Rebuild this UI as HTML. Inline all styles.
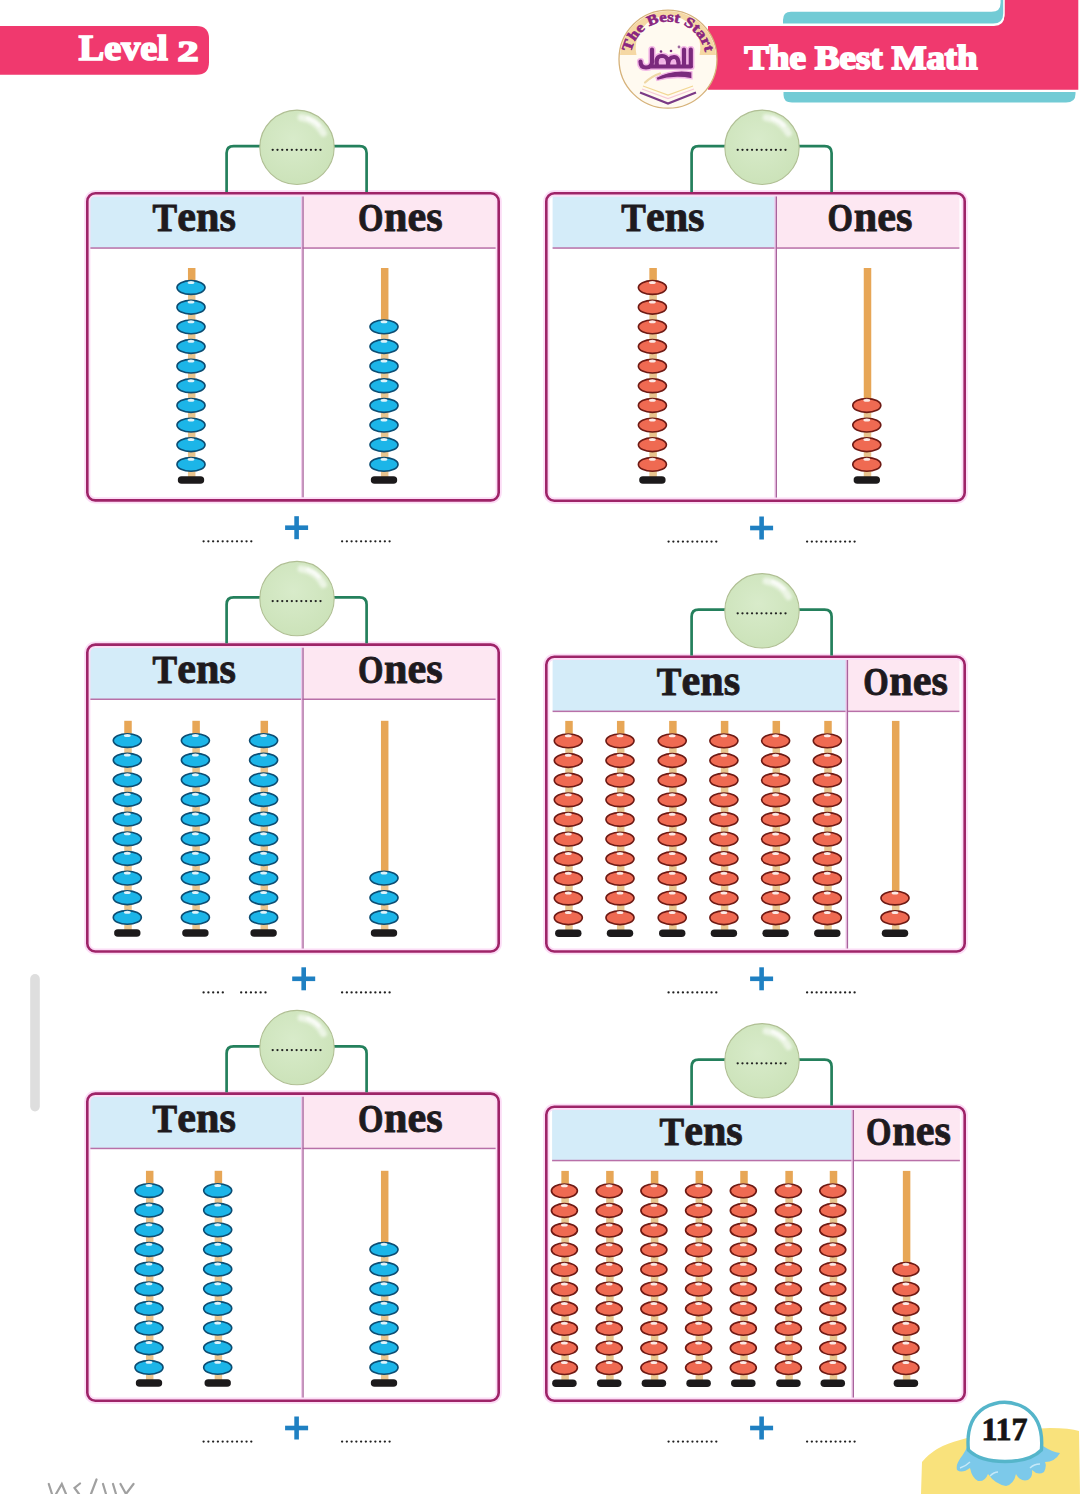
<!DOCTYPE html>
<html><head><meta charset="utf-8"><title>The Best Math - Level 2</title>
<style>
html,body{margin:0;padding:0;background:#ffffff;}
body{width:1080px;height:1494px;overflow:hidden;position:relative;}
svg{position:absolute;left:0;top:0;display:block;}
.hc{font-family:"Liberation Serif",serif;font-weight:bold;font-size:41px;fill:#1e1a1e;stroke:#1e1a1e;stroke-width:0.9px;}
.hl{font-family:"Liberation Serif",serif;font-weight:bold;font-size:44px;fill:#1e1a1e;stroke:#1e1a1e;stroke-width:0.9px;}
.lv{font-family:"Liberation Serif",serif;font-weight:bold;font-size:35px;fill:#ffffff;stroke:#ffffff;stroke-width:1.7px;}
.tbm{font-family:"Liberation Serif",serif;font-weight:bold;font-size:33px;fill:#ffffff;stroke:#ffffff;stroke-width:1.9px;}
.lg{font-family:"Liberation Serif",serif;font-weight:bold;font-size:14.5px;fill:#8a2580;stroke:#8a2580;stroke-width:0.6px;}
.pg{font-family:"Liberation Serif",serif;font-weight:bold;font-size:32px;fill:#161414;stroke:#161414;stroke-width:0.8px;text-anchor:middle;}
</style></head>
<body>
<svg width="1080" height="1494" viewBox="0 0 1080 1494">
<defs>
<radialGradient id="gball" cx="0.45" cy="0.4" r="0.65">
<stop offset="0" stop-color="#d8ebca"/>
<stop offset="1" stop-color="#cbe2b8"/>
</radialGradient>
<filter id="blur2" x="-50%" y="-50%" width="200%" height="200%"><feGaussianBlur stdDeviation="1.6"/></filter>
<filter id="blur1" x="-50%" y="-50%" width="200%" height="200%"><feGaussianBlur stdDeviation="0.8"/></filter>
</defs>
<path d="M0,26 L196.5,26 Q209,26 209,38.5 L209,62.2 Q209,74.7 196.5,74.7 L0,74.7 Z" fill="#f0396e"/>
<text x="78.8" y="59.6" class="lv" style="font-size:36px" textLength="89" lengthAdjust="spacingAndGlyphs">Level</text>
<text x="177.4" y="60.6" class="lv" style="font-size:30px" textLength="21" lengthAdjust="spacingAndGlyphs">2</text>
<path d="M708,26 L994,26 Q1004.4,26 1004.4,15.6 L1004.4,0 L1078.3,0 L1078.3,89.7 L708,89.7 Z" fill="#f0396e"/>
<path d="M781.5,25 L781.5,19 Q781.5,10 790,10 L991,10 Q999,10 999,2 L999,0 L1004.6,0 L1004.6,13.5 Q1004.6,25 993.3,25 Z" fill="#ffffff"/>
<path d="M783,23.6 L783,20 Q783,11.8 791,11.8 L991.5,11.8 Q1000.6,11.8 1000.6,2.7 L1000.6,0 L1003.2,0 L1003.2,13.5 Q1003.2,23.6 993.2,23.6 Z" fill="#72cbd5"/>
<path d="M783.5,92 L1075.5,92 L1075.5,94 Q1075.5,102.6 1066,102.6 L792,102.6 Q783.5,102.6 783.5,95 Z" fill="#72cbd5"/>
<text x="744.5" y="69.4" class="tbm" textLength="233" lengthAdjust="spacingAndGlyphs">The Best Math</text>
<circle cx="668" cy="59.2" r="49" fill="#fffaf0" stroke="#d6b27a" stroke-width="1.3"/>
<clipPath id="lclip"><circle cx="668" cy="59.2" r="48.2"/></clipPath>
<g clip-path="url(#lclip)"><path d="M619,55 L619,10.200000000000003 L717,10.200000000000003 L717,55 L699.5,55 A32.3,32.3 0 1 0 636.5,55 Z" fill="#f5d8a4" fill-rule="evenodd"/></g>
<path id="arcp" d="M631.86,69.56 A37.6,37.6 0 1 1 704.14,69.56" fill="none"/>
<text class="lg"><textPath href="#arcp" startOffset="50%" text-anchor="middle" textLength="104" lengthAdjust="spacingAndGlyphs">The Best Start</textPath></text>
<path d="M652,49.5 L652,62 Q652,67.5 646,67.5 Q640.5,67.5 640.5,61.5 M652,66.5 L691,66.5 M657,66 Q655,56 662,56 Q669,56 668,66 M668,66 Q668,57 674,57 Q679,57 678.5,66 M684,49.5 L684,66 M690.8,49.5 L690.8,66" fill="none" stroke="#f3b6e6" stroke-width="7.2" stroke-linecap="round" stroke-linejoin="round"/>
<path d="M652,49.5 L652,62 Q652,67.5 646,67.5 Q640.5,67.5 640.5,61.5 M652,66.5 L691,66.5 M657,66 Q655,56 662,56 Q669,56 668,66 M668,66 Q668,57 674,57 Q679,57 678.5,66 M684,49.5 L684,66 M690.8,49.5 L690.8,66" fill="none" stroke="#7b2a7d" stroke-width="4.2" stroke-linecap="round" stroke-linejoin="round"/>
<ellipse cx="662" cy="61" rx="3" ry="2.2" fill="#f0b0e4"/>
<ellipse cx="673.5" cy="61.5" rx="2" ry="1.8" fill="#f0b0e4"/>
<circle cx="661" cy="51.5" r="1.3" fill="#7b2a7d"/><circle cx="671" cy="51" r="1.3" fill="#7b2a7d"/><circle cx="679" cy="47" r="1.4" fill="#a06aa0"/>
<path d="M645,82.5 Q652,76 660,73.5" fill="none" stroke="#eed7a6" stroke-width="2.2" stroke-linecap="round"/>
<path d="M656,77.5 Q672,68.5 692,71.8 L692,78.8 Q673,75.5 657,80.5 Z" fill="#7b2a7d" stroke="#f3b6e6" stroke-width="1.3"/>
<path d="M643,86 L668,95 L693,86" fill="none" stroke="#f2d794" stroke-width="1.3"/>
<path d="M642,89 L668,98.5 L694,89" fill="none" stroke="#f6c9d8" stroke-width="1.3"/>
<path d="M640,92.5 L668,103.5 L696,92.5" fill="none" stroke="#7b3a86" stroke-width="2.2"/>
<clipPath id="clip0"><rect x="88.6" y="194.6" width="408.8" height="304.5" rx="6"/></clipPath>
<rect x="87.3" y="193.3" width="411.4" height="307.1" rx="8" fill="#ffffff"/>
<g clip-path="url(#clip0)">
<rect x="88.6" y="196.4" width="214.4" height="51.6" fill="#d4ecf9"/>
<rect x="303" y="196.4" width="195.4" height="51.6" fill="#fde7f2"/>
<rect x="88.6" y="247.3" width="409.8" height="1.5" fill="#b870a8"/>
</g>
<rect x="301.1" y="194.6" width="1.4" height="304.5" fill="#f1c6ea"/>
<rect x="302.4" y="194.6" width="1.3" height="304.5" fill="#a8649c"/>
<rect x="87.3" y="193.3" width="411.4" height="307.1" rx="8" fill="none" stroke="#fcdcf6" stroke-width="6.2"/>
<rect x="87.3" y="193.3" width="411.4" height="307.1" rx="8" fill="none" stroke="#9e2468" stroke-width="2.6"/>
<text x="152.6" y="231.3" class="hc" textLength="24.6" lengthAdjust="spacingAndGlyphs">T</text>
<text x="177.3" y="231.3" class="hl" textLength="58.6" lengthAdjust="spacingAndGlyphs">ens</text>
<text x="357.95" y="231.3" class="hc" textLength="25.5" lengthAdjust="spacingAndGlyphs">O</text>
<text x="384.1" y="231.3" class="hl" textLength="58.6" lengthAdjust="spacingAndGlyphs">nes</text>
<rect x="187.95" y="268" width="7.5" height="14.15" fill="#e7a656"/>
<rect x="187.95" y="280.15" width="7.5" height="198.15" fill="#e8c48e"/>
<rect x="177.8" y="476.3" width="26.4" height="7.5" rx="3.75" fill="#1c1a1b"/>
<ellipse cx="191" cy="464.4" rx="14.0" ry="6.85" fill="#1cb5e8" stroke="#0c4d73" stroke-width="1.65"/>
<ellipse cx="191" cy="459.25" rx="3.4" ry="1.5" fill="#ffffff" opacity="0.85"/>
<ellipse cx="191" cy="444.75" rx="14.0" ry="6.85" fill="#1cb5e8" stroke="#0c4d73" stroke-width="1.65"/>
<ellipse cx="191" cy="439.6" rx="3.4" ry="1.5" fill="#ffffff" opacity="0.85"/>
<ellipse cx="191" cy="425.1" rx="14.0" ry="6.85" fill="#1cb5e8" stroke="#0c4d73" stroke-width="1.65"/>
<ellipse cx="191" cy="419.95" rx="3.4" ry="1.5" fill="#ffffff" opacity="0.85"/>
<ellipse cx="191" cy="405.45" rx="14.0" ry="6.85" fill="#1cb5e8" stroke="#0c4d73" stroke-width="1.65"/>
<ellipse cx="191" cy="400.3" rx="3.4" ry="1.5" fill="#ffffff" opacity="0.85"/>
<ellipse cx="191" cy="385.8" rx="14.0" ry="6.85" fill="#1cb5e8" stroke="#0c4d73" stroke-width="1.65"/>
<ellipse cx="191" cy="380.65" rx="3.4" ry="1.5" fill="#ffffff" opacity="0.85"/>
<ellipse cx="191" cy="366.15" rx="14.0" ry="6.85" fill="#1cb5e8" stroke="#0c4d73" stroke-width="1.65"/>
<ellipse cx="191" cy="361" rx="3.4" ry="1.5" fill="#ffffff" opacity="0.85"/>
<ellipse cx="191" cy="346.5" rx="14.0" ry="6.85" fill="#1cb5e8" stroke="#0c4d73" stroke-width="1.65"/>
<ellipse cx="191" cy="341.35" rx="3.4" ry="1.5" fill="#ffffff" opacity="0.85"/>
<ellipse cx="191" cy="326.85" rx="14.0" ry="6.85" fill="#1cb5e8" stroke="#0c4d73" stroke-width="1.65"/>
<ellipse cx="191" cy="321.7" rx="3.4" ry="1.5" fill="#ffffff" opacity="0.85"/>
<ellipse cx="191" cy="307.2" rx="14.0" ry="6.85" fill="#1cb5e8" stroke="#0c4d73" stroke-width="1.65"/>
<ellipse cx="191" cy="302.05" rx="3.4" ry="1.5" fill="#ffffff" opacity="0.85"/>
<ellipse cx="191" cy="287.55" rx="14.0" ry="6.85" fill="#1cb5e8" stroke="#0c4d73" stroke-width="1.65"/>
<ellipse cx="191" cy="282.4" rx="3.4" ry="1.5" fill="#ffffff" opacity="0.85"/>
<rect x="380.95" y="268" width="7.5" height="53.45" fill="#e7a656"/>
<rect x="380.95" y="319.45" width="7.5" height="158.85" fill="#e8c48e"/>
<rect x="370.8" y="476.3" width="26.4" height="7.5" rx="3.75" fill="#1c1a1b"/>
<ellipse cx="384" cy="464.4" rx="14.0" ry="6.85" fill="#1cb5e8" stroke="#0c4d73" stroke-width="1.65"/>
<ellipse cx="384" cy="459.25" rx="3.4" ry="1.5" fill="#ffffff" opacity="0.85"/>
<ellipse cx="384" cy="444.75" rx="14.0" ry="6.85" fill="#1cb5e8" stroke="#0c4d73" stroke-width="1.65"/>
<ellipse cx="384" cy="439.6" rx="3.4" ry="1.5" fill="#ffffff" opacity="0.85"/>
<ellipse cx="384" cy="425.1" rx="14.0" ry="6.85" fill="#1cb5e8" stroke="#0c4d73" stroke-width="1.65"/>
<ellipse cx="384" cy="419.95" rx="3.4" ry="1.5" fill="#ffffff" opacity="0.85"/>
<ellipse cx="384" cy="405.45" rx="14.0" ry="6.85" fill="#1cb5e8" stroke="#0c4d73" stroke-width="1.65"/>
<ellipse cx="384" cy="400.3" rx="3.4" ry="1.5" fill="#ffffff" opacity="0.85"/>
<ellipse cx="384" cy="385.8" rx="14.0" ry="6.85" fill="#1cb5e8" stroke="#0c4d73" stroke-width="1.65"/>
<ellipse cx="384" cy="380.65" rx="3.4" ry="1.5" fill="#ffffff" opacity="0.85"/>
<ellipse cx="384" cy="366.15" rx="14.0" ry="6.85" fill="#1cb5e8" stroke="#0c4d73" stroke-width="1.65"/>
<ellipse cx="384" cy="361" rx="3.4" ry="1.5" fill="#ffffff" opacity="0.85"/>
<ellipse cx="384" cy="346.5" rx="14.0" ry="6.85" fill="#1cb5e8" stroke="#0c4d73" stroke-width="1.65"/>
<ellipse cx="384" cy="341.35" rx="3.4" ry="1.5" fill="#ffffff" opacity="0.85"/>
<ellipse cx="384" cy="326.85" rx="14.0" ry="6.85" fill="#1cb5e8" stroke="#0c4d73" stroke-width="1.65"/>
<ellipse cx="384" cy="321.7" rx="3.4" ry="1.5" fill="#ffffff" opacity="0.85"/>
<path d="M226.6,192 L226.6,153.1 Q226.6,146.1 233.6,146.1 L359.6,146.1 Q366.6,146.1 366.6,153.1 L366.6,192" fill="none" stroke="#24805c" stroke-width="2.7"/>
<circle cx="297" cy="147.3" r="37.2" fill="url(#gball)" stroke="#b0bf94" stroke-width="1.1"/>
<path d="M301.18,117.59 A30,30 0 0 1 323.49,133.22" fill="none" stroke="#ffffff" stroke-width="7" stroke-linecap="round" opacity="0.6" filter="url(#blur2)"/>
<path d="M307.6,118.17 A31,31 0 0 1 318.92,125.38" fill="none" stroke="#ffffff" stroke-width="3.5" stroke-linecap="round" opacity="0.7" filter="url(#blur1)"/>
<circle cx="272.7" cy="149.8" r="1.15" fill="#202020"/><circle cx="277.48" cy="149.8" r="1.15" fill="#202020"/><circle cx="282.26" cy="149.8" r="1.15" fill="#202020"/><circle cx="287.04" cy="149.8" r="1.15" fill="#202020"/><circle cx="291.82" cy="149.8" r="1.15" fill="#202020"/><circle cx="296.6" cy="149.8" r="1.15" fill="#202020"/><circle cx="301.38" cy="149.8" r="1.15" fill="#202020"/><circle cx="306.16" cy="149.8" r="1.15" fill="#202020"/><circle cx="310.94" cy="149.8" r="1.15" fill="#202020"/><circle cx="315.72" cy="149.8" r="1.15" fill="#202020"/><circle cx="320.5" cy="149.8" r="1.15" fill="#202020"/>
<rect x="285.1" y="525.4" width="23" height="4.6" fill="#1f80c2"/><rect x="294.3" y="516.2" width="4.6" height="23" fill="#1f80c2"/>
<circle cx="203.6" cy="541.3" r="1.15" fill="#202020"/><circle cx="208.37" cy="541.3" r="1.15" fill="#202020"/><circle cx="213.14" cy="541.3" r="1.15" fill="#202020"/><circle cx="217.91" cy="541.3" r="1.15" fill="#202020"/><circle cx="222.68" cy="541.3" r="1.15" fill="#202020"/><circle cx="227.45" cy="541.3" r="1.15" fill="#202020"/><circle cx="232.22" cy="541.3" r="1.15" fill="#202020"/><circle cx="236.99" cy="541.3" r="1.15" fill="#202020"/><circle cx="241.76" cy="541.3" r="1.15" fill="#202020"/><circle cx="246.53" cy="541.3" r="1.15" fill="#202020"/><circle cx="251.3" cy="541.3" r="1.15" fill="#202020"/>
<circle cx="342.1" cy="541.3" r="1.15" fill="#202020"/><circle cx="346.85" cy="541.3" r="1.15" fill="#202020"/><circle cx="351.6" cy="541.3" r="1.15" fill="#202020"/><circle cx="356.35" cy="541.3" r="1.15" fill="#202020"/><circle cx="361.1" cy="541.3" r="1.15" fill="#202020"/><circle cx="365.85" cy="541.3" r="1.15" fill="#202020"/><circle cx="370.6" cy="541.3" r="1.15" fill="#202020"/><circle cx="375.35" cy="541.3" r="1.15" fill="#202020"/><circle cx="380.1" cy="541.3" r="1.15" fill="#202020"/><circle cx="384.85" cy="541.3" r="1.15" fill="#202020"/><circle cx="389.6" cy="541.3" r="1.15" fill="#202020"/><clipPath id="clip1"><rect x="547.6" y="194.6" width="415.8" height="304.8" rx="6"/></clipPath>
<rect x="546.3" y="193.3" width="418.4" height="307.4" rx="8" fill="#ffffff"/>
<g clip-path="url(#clip1)">
<rect x="552.6" y="196.4" width="223.7" height="51.6" fill="#d4ecf9"/>
<rect x="776.3" y="196.4" width="183.1" height="51.6" fill="#fde7f2"/>
<rect x="552.6" y="247.3" width="406.8" height="1.5" fill="#b870a8"/>
</g>
<rect x="774.4" y="194.6" width="1.4" height="304.8" fill="#f1c6ea"/>
<rect x="775.7" y="194.6" width="1.3" height="304.8" fill="#a8649c"/>
<rect x="546.3" y="193.3" width="418.4" height="307.4" rx="8" fill="none" stroke="#fcdcf6" stroke-width="6.2"/>
<rect x="546.3" y="193.3" width="418.4" height="307.4" rx="8" fill="none" stroke="#9e2468" stroke-width="2.6"/>
<text x="621.25" y="231.3" class="hc" textLength="24.6" lengthAdjust="spacingAndGlyphs">T</text>
<text x="645.95" y="231.3" class="hl" textLength="58.6" lengthAdjust="spacingAndGlyphs">ens</text>
<text x="827.6" y="231.3" class="hc" textLength="25.5" lengthAdjust="spacingAndGlyphs">O</text>
<text x="853.75" y="231.3" class="hl" textLength="58.6" lengthAdjust="spacingAndGlyphs">nes</text>
<rect x="649.35" y="268" width="7.5" height="14.15" fill="#e7a656"/>
<rect x="649.35" y="280.15" width="7.5" height="198.15" fill="#e8c48e"/>
<rect x="639.2" y="476.3" width="26.4" height="7.5" rx="3.75" fill="#1c1a1b"/>
<ellipse cx="652.4" cy="464.4" rx="14.0" ry="6.85" fill="#ef6a52" stroke="#6e1a14" stroke-width="1.65"/>
<ellipse cx="652.4" cy="459.25" rx="3.4" ry="1.5" fill="#ffffff" opacity="0.85"/>
<ellipse cx="652.4" cy="444.75" rx="14.0" ry="6.85" fill="#ef6a52" stroke="#6e1a14" stroke-width="1.65"/>
<ellipse cx="652.4" cy="439.6" rx="3.4" ry="1.5" fill="#ffffff" opacity="0.85"/>
<ellipse cx="652.4" cy="425.1" rx="14.0" ry="6.85" fill="#ef6a52" stroke="#6e1a14" stroke-width="1.65"/>
<ellipse cx="652.4" cy="419.95" rx="3.4" ry="1.5" fill="#ffffff" opacity="0.85"/>
<ellipse cx="652.4" cy="405.45" rx="14.0" ry="6.85" fill="#ef6a52" stroke="#6e1a14" stroke-width="1.65"/>
<ellipse cx="652.4" cy="400.3" rx="3.4" ry="1.5" fill="#ffffff" opacity="0.85"/>
<ellipse cx="652.4" cy="385.8" rx="14.0" ry="6.85" fill="#ef6a52" stroke="#6e1a14" stroke-width="1.65"/>
<ellipse cx="652.4" cy="380.65" rx="3.4" ry="1.5" fill="#ffffff" opacity="0.85"/>
<ellipse cx="652.4" cy="366.15" rx="14.0" ry="6.85" fill="#ef6a52" stroke="#6e1a14" stroke-width="1.65"/>
<ellipse cx="652.4" cy="361" rx="3.4" ry="1.5" fill="#ffffff" opacity="0.85"/>
<ellipse cx="652.4" cy="346.5" rx="14.0" ry="6.85" fill="#ef6a52" stroke="#6e1a14" stroke-width="1.65"/>
<ellipse cx="652.4" cy="341.35" rx="3.4" ry="1.5" fill="#ffffff" opacity="0.85"/>
<ellipse cx="652.4" cy="326.85" rx="14.0" ry="6.85" fill="#ef6a52" stroke="#6e1a14" stroke-width="1.65"/>
<ellipse cx="652.4" cy="321.7" rx="3.4" ry="1.5" fill="#ffffff" opacity="0.85"/>
<ellipse cx="652.4" cy="307.2" rx="14.0" ry="6.85" fill="#ef6a52" stroke="#6e1a14" stroke-width="1.65"/>
<ellipse cx="652.4" cy="302.05" rx="3.4" ry="1.5" fill="#ffffff" opacity="0.85"/>
<ellipse cx="652.4" cy="287.55" rx="14.0" ry="6.85" fill="#ef6a52" stroke="#6e1a14" stroke-width="1.65"/>
<ellipse cx="652.4" cy="282.4" rx="3.4" ry="1.5" fill="#ffffff" opacity="0.85"/>
<rect x="863.75" y="268" width="7.5" height="132.05" fill="#e7a656"/>
<rect x="863.75" y="398.05" width="7.5" height="80.25" fill="#e8c48e"/>
<rect x="853.6" y="476.3" width="26.4" height="7.5" rx="3.75" fill="#1c1a1b"/>
<ellipse cx="866.8" cy="464.4" rx="14.0" ry="6.85" fill="#ef6a52" stroke="#6e1a14" stroke-width="1.65"/>
<ellipse cx="866.8" cy="459.25" rx="3.4" ry="1.5" fill="#ffffff" opacity="0.85"/>
<ellipse cx="866.8" cy="444.75" rx="14.0" ry="6.85" fill="#ef6a52" stroke="#6e1a14" stroke-width="1.65"/>
<ellipse cx="866.8" cy="439.6" rx="3.4" ry="1.5" fill="#ffffff" opacity="0.85"/>
<ellipse cx="866.8" cy="425.1" rx="14.0" ry="6.85" fill="#ef6a52" stroke="#6e1a14" stroke-width="1.65"/>
<ellipse cx="866.8" cy="419.95" rx="3.4" ry="1.5" fill="#ffffff" opacity="0.85"/>
<ellipse cx="866.8" cy="405.45" rx="14.0" ry="6.85" fill="#ef6a52" stroke="#6e1a14" stroke-width="1.65"/>
<ellipse cx="866.8" cy="400.3" rx="3.4" ry="1.5" fill="#ffffff" opacity="0.85"/>
<path d="M691.6,192 L691.6,153.1 Q691.6,146.1 698.6,146.1 L824.6,146.1 Q831.6,146.1 831.6,153.1 L831.6,192" fill="none" stroke="#24805c" stroke-width="2.7"/>
<circle cx="762" cy="147.3" r="37.2" fill="url(#gball)" stroke="#b0bf94" stroke-width="1.1"/>
<path d="M766.18,117.59 A30,30 0 0 1 788.49,133.22" fill="none" stroke="#ffffff" stroke-width="7" stroke-linecap="round" opacity="0.6" filter="url(#blur2)"/>
<path d="M772.6,118.17 A31,31 0 0 1 783.92,125.38" fill="none" stroke="#ffffff" stroke-width="3.5" stroke-linecap="round" opacity="0.7" filter="url(#blur1)"/>
<circle cx="737.7" cy="149.8" r="1.15" fill="#202020"/><circle cx="742.48" cy="149.8" r="1.15" fill="#202020"/><circle cx="747.26" cy="149.8" r="1.15" fill="#202020"/><circle cx="752.04" cy="149.8" r="1.15" fill="#202020"/><circle cx="756.82" cy="149.8" r="1.15" fill="#202020"/><circle cx="761.6" cy="149.8" r="1.15" fill="#202020"/><circle cx="766.38" cy="149.8" r="1.15" fill="#202020"/><circle cx="771.16" cy="149.8" r="1.15" fill="#202020"/><circle cx="775.94" cy="149.8" r="1.15" fill="#202020"/><circle cx="780.72" cy="149.8" r="1.15" fill="#202020"/><circle cx="785.5" cy="149.8" r="1.15" fill="#202020"/>
<rect x="750.1" y="525.7" width="23" height="4.6" fill="#1f80c2"/><rect x="759.3" y="516.5" width="4.6" height="23" fill="#1f80c2"/>
<circle cx="668.6" cy="541.6" r="1.15" fill="#202020"/><circle cx="673.37" cy="541.6" r="1.15" fill="#202020"/><circle cx="678.14" cy="541.6" r="1.15" fill="#202020"/><circle cx="682.91" cy="541.6" r="1.15" fill="#202020"/><circle cx="687.68" cy="541.6" r="1.15" fill="#202020"/><circle cx="692.45" cy="541.6" r="1.15" fill="#202020"/><circle cx="697.22" cy="541.6" r="1.15" fill="#202020"/><circle cx="701.99" cy="541.6" r="1.15" fill="#202020"/><circle cx="706.76" cy="541.6" r="1.15" fill="#202020"/><circle cx="711.53" cy="541.6" r="1.15" fill="#202020"/><circle cx="716.3" cy="541.6" r="1.15" fill="#202020"/>
<circle cx="807.1" cy="541.6" r="1.15" fill="#202020"/><circle cx="811.85" cy="541.6" r="1.15" fill="#202020"/><circle cx="816.6" cy="541.6" r="1.15" fill="#202020"/><circle cx="821.35" cy="541.6" r="1.15" fill="#202020"/><circle cx="826.1" cy="541.6" r="1.15" fill="#202020"/><circle cx="830.85" cy="541.6" r="1.15" fill="#202020"/><circle cx="835.6" cy="541.6" r="1.15" fill="#202020"/><circle cx="840.35" cy="541.6" r="1.15" fill="#202020"/><circle cx="845.1" cy="541.6" r="1.15" fill="#202020"/><circle cx="849.85" cy="541.6" r="1.15" fill="#202020"/><circle cx="854.6" cy="541.6" r="1.15" fill="#202020"/><clipPath id="clip2"><rect x="88.6" y="645.9" width="408.8" height="304.3" rx="6"/></clipPath>
<rect x="87.3" y="644.6" width="411.4" height="306.9" rx="8" fill="#ffffff"/>
<g clip-path="url(#clip2)">
<rect x="88.6" y="647.7" width="214.4" height="51.5" fill="#d4ecf9"/>
<rect x="303" y="647.7" width="195.4" height="51.5" fill="#fde7f2"/>
<rect x="88.6" y="698.5" width="409.8" height="1.5" fill="#b870a8"/>
</g>
<rect x="301.1" y="645.9" width="1.4" height="304.3" fill="#f1c6ea"/>
<rect x="302.4" y="645.9" width="1.3" height="304.3" fill="#a8649c"/>
<rect x="87.3" y="644.6" width="411.4" height="306.9" rx="8" fill="none" stroke="#fcdcf6" stroke-width="6.2"/>
<rect x="87.3" y="644.6" width="411.4" height="306.9" rx="8" fill="none" stroke="#9e2468" stroke-width="2.6"/>
<text x="152.6" y="682.6" class="hc" textLength="24.6" lengthAdjust="spacingAndGlyphs">T</text>
<text x="177.3" y="682.6" class="hl" textLength="58.6" lengthAdjust="spacingAndGlyphs">ens</text>
<text x="357.95" y="682.6" class="hc" textLength="25.5" lengthAdjust="spacingAndGlyphs">O</text>
<text x="384.1" y="682.6" class="hl" textLength="58.6" lengthAdjust="spacingAndGlyphs">nes</text>
<rect x="124.25" y="720.8" width="7.5" height="14.35" fill="#e7a656"/>
<rect x="124.25" y="733.15" width="7.5" height="198.15" fill="#e8c48e"/>
<rect x="114.1" y="929.3" width="26.4" height="7.5" rx="3.75" fill="#1c1a1b"/>
<ellipse cx="127.3" cy="917.4" rx="14.0" ry="6.85" fill="#1cb5e8" stroke="#0c4d73" stroke-width="1.65"/>
<ellipse cx="127.3" cy="912.25" rx="3.4" ry="1.5" fill="#ffffff" opacity="0.85"/>
<ellipse cx="127.3" cy="897.75" rx="14.0" ry="6.85" fill="#1cb5e8" stroke="#0c4d73" stroke-width="1.65"/>
<ellipse cx="127.3" cy="892.6" rx="3.4" ry="1.5" fill="#ffffff" opacity="0.85"/>
<ellipse cx="127.3" cy="878.1" rx="14.0" ry="6.85" fill="#1cb5e8" stroke="#0c4d73" stroke-width="1.65"/>
<ellipse cx="127.3" cy="872.95" rx="3.4" ry="1.5" fill="#ffffff" opacity="0.85"/>
<ellipse cx="127.3" cy="858.45" rx="14.0" ry="6.85" fill="#1cb5e8" stroke="#0c4d73" stroke-width="1.65"/>
<ellipse cx="127.3" cy="853.3" rx="3.4" ry="1.5" fill="#ffffff" opacity="0.85"/>
<ellipse cx="127.3" cy="838.8" rx="14.0" ry="6.85" fill="#1cb5e8" stroke="#0c4d73" stroke-width="1.65"/>
<ellipse cx="127.3" cy="833.65" rx="3.4" ry="1.5" fill="#ffffff" opacity="0.85"/>
<ellipse cx="127.3" cy="819.15" rx="14.0" ry="6.85" fill="#1cb5e8" stroke="#0c4d73" stroke-width="1.65"/>
<ellipse cx="127.3" cy="814" rx="3.4" ry="1.5" fill="#ffffff" opacity="0.85"/>
<ellipse cx="127.3" cy="799.5" rx="14.0" ry="6.85" fill="#1cb5e8" stroke="#0c4d73" stroke-width="1.65"/>
<ellipse cx="127.3" cy="794.35" rx="3.4" ry="1.5" fill="#ffffff" opacity="0.85"/>
<ellipse cx="127.3" cy="779.85" rx="14.0" ry="6.85" fill="#1cb5e8" stroke="#0c4d73" stroke-width="1.65"/>
<ellipse cx="127.3" cy="774.7" rx="3.4" ry="1.5" fill="#ffffff" opacity="0.85"/>
<ellipse cx="127.3" cy="760.2" rx="14.0" ry="6.85" fill="#1cb5e8" stroke="#0c4d73" stroke-width="1.65"/>
<ellipse cx="127.3" cy="755.05" rx="3.4" ry="1.5" fill="#ffffff" opacity="0.85"/>
<ellipse cx="127.3" cy="740.55" rx="14.0" ry="6.85" fill="#1cb5e8" stroke="#0c4d73" stroke-width="1.65"/>
<ellipse cx="127.3" cy="735.4" rx="3.4" ry="1.5" fill="#ffffff" opacity="0.85"/>
<rect x="192.35" y="720.8" width="7.5" height="14.35" fill="#e7a656"/>
<rect x="192.35" y="733.15" width="7.5" height="198.15" fill="#e8c48e"/>
<rect x="182.2" y="929.3" width="26.4" height="7.5" rx="3.75" fill="#1c1a1b"/>
<ellipse cx="195.4" cy="917.4" rx="14.0" ry="6.85" fill="#1cb5e8" stroke="#0c4d73" stroke-width="1.65"/>
<ellipse cx="195.4" cy="912.25" rx="3.4" ry="1.5" fill="#ffffff" opacity="0.85"/>
<ellipse cx="195.4" cy="897.75" rx="14.0" ry="6.85" fill="#1cb5e8" stroke="#0c4d73" stroke-width="1.65"/>
<ellipse cx="195.4" cy="892.6" rx="3.4" ry="1.5" fill="#ffffff" opacity="0.85"/>
<ellipse cx="195.4" cy="878.1" rx="14.0" ry="6.85" fill="#1cb5e8" stroke="#0c4d73" stroke-width="1.65"/>
<ellipse cx="195.4" cy="872.95" rx="3.4" ry="1.5" fill="#ffffff" opacity="0.85"/>
<ellipse cx="195.4" cy="858.45" rx="14.0" ry="6.85" fill="#1cb5e8" stroke="#0c4d73" stroke-width="1.65"/>
<ellipse cx="195.4" cy="853.3" rx="3.4" ry="1.5" fill="#ffffff" opacity="0.85"/>
<ellipse cx="195.4" cy="838.8" rx="14.0" ry="6.85" fill="#1cb5e8" stroke="#0c4d73" stroke-width="1.65"/>
<ellipse cx="195.4" cy="833.65" rx="3.4" ry="1.5" fill="#ffffff" opacity="0.85"/>
<ellipse cx="195.4" cy="819.15" rx="14.0" ry="6.85" fill="#1cb5e8" stroke="#0c4d73" stroke-width="1.65"/>
<ellipse cx="195.4" cy="814" rx="3.4" ry="1.5" fill="#ffffff" opacity="0.85"/>
<ellipse cx="195.4" cy="799.5" rx="14.0" ry="6.85" fill="#1cb5e8" stroke="#0c4d73" stroke-width="1.65"/>
<ellipse cx="195.4" cy="794.35" rx="3.4" ry="1.5" fill="#ffffff" opacity="0.85"/>
<ellipse cx="195.4" cy="779.85" rx="14.0" ry="6.85" fill="#1cb5e8" stroke="#0c4d73" stroke-width="1.65"/>
<ellipse cx="195.4" cy="774.7" rx="3.4" ry="1.5" fill="#ffffff" opacity="0.85"/>
<ellipse cx="195.4" cy="760.2" rx="14.0" ry="6.85" fill="#1cb5e8" stroke="#0c4d73" stroke-width="1.65"/>
<ellipse cx="195.4" cy="755.05" rx="3.4" ry="1.5" fill="#ffffff" opacity="0.85"/>
<ellipse cx="195.4" cy="740.55" rx="14.0" ry="6.85" fill="#1cb5e8" stroke="#0c4d73" stroke-width="1.65"/>
<ellipse cx="195.4" cy="735.4" rx="3.4" ry="1.5" fill="#ffffff" opacity="0.85"/>
<rect x="260.55" y="720.8" width="7.5" height="14.35" fill="#e7a656"/>
<rect x="260.55" y="733.15" width="7.5" height="198.15" fill="#e8c48e"/>
<rect x="250.4" y="929.3" width="26.4" height="7.5" rx="3.75" fill="#1c1a1b"/>
<ellipse cx="263.6" cy="917.4" rx="14.0" ry="6.85" fill="#1cb5e8" stroke="#0c4d73" stroke-width="1.65"/>
<ellipse cx="263.6" cy="912.25" rx="3.4" ry="1.5" fill="#ffffff" opacity="0.85"/>
<ellipse cx="263.6" cy="897.75" rx="14.0" ry="6.85" fill="#1cb5e8" stroke="#0c4d73" stroke-width="1.65"/>
<ellipse cx="263.6" cy="892.6" rx="3.4" ry="1.5" fill="#ffffff" opacity="0.85"/>
<ellipse cx="263.6" cy="878.1" rx="14.0" ry="6.85" fill="#1cb5e8" stroke="#0c4d73" stroke-width="1.65"/>
<ellipse cx="263.6" cy="872.95" rx="3.4" ry="1.5" fill="#ffffff" opacity="0.85"/>
<ellipse cx="263.6" cy="858.45" rx="14.0" ry="6.85" fill="#1cb5e8" stroke="#0c4d73" stroke-width="1.65"/>
<ellipse cx="263.6" cy="853.3" rx="3.4" ry="1.5" fill="#ffffff" opacity="0.85"/>
<ellipse cx="263.6" cy="838.8" rx="14.0" ry="6.85" fill="#1cb5e8" stroke="#0c4d73" stroke-width="1.65"/>
<ellipse cx="263.6" cy="833.65" rx="3.4" ry="1.5" fill="#ffffff" opacity="0.85"/>
<ellipse cx="263.6" cy="819.15" rx="14.0" ry="6.85" fill="#1cb5e8" stroke="#0c4d73" stroke-width="1.65"/>
<ellipse cx="263.6" cy="814" rx="3.4" ry="1.5" fill="#ffffff" opacity="0.85"/>
<ellipse cx="263.6" cy="799.5" rx="14.0" ry="6.85" fill="#1cb5e8" stroke="#0c4d73" stroke-width="1.65"/>
<ellipse cx="263.6" cy="794.35" rx="3.4" ry="1.5" fill="#ffffff" opacity="0.85"/>
<ellipse cx="263.6" cy="779.85" rx="14.0" ry="6.85" fill="#1cb5e8" stroke="#0c4d73" stroke-width="1.65"/>
<ellipse cx="263.6" cy="774.7" rx="3.4" ry="1.5" fill="#ffffff" opacity="0.85"/>
<ellipse cx="263.6" cy="760.2" rx="14.0" ry="6.85" fill="#1cb5e8" stroke="#0c4d73" stroke-width="1.65"/>
<ellipse cx="263.6" cy="755.05" rx="3.4" ry="1.5" fill="#ffffff" opacity="0.85"/>
<ellipse cx="263.6" cy="740.55" rx="14.0" ry="6.85" fill="#1cb5e8" stroke="#0c4d73" stroke-width="1.65"/>
<ellipse cx="263.6" cy="735.4" rx="3.4" ry="1.5" fill="#ffffff" opacity="0.85"/>
<rect x="380.95" y="720.8" width="7.5" height="151.9" fill="#e7a656"/>
<rect x="380.95" y="870.7" width="7.5" height="60.6" fill="#e8c48e"/>
<rect x="370.8" y="929.3" width="26.4" height="7.5" rx="3.75" fill="#1c1a1b"/>
<ellipse cx="384" cy="917.4" rx="14.0" ry="6.85" fill="#1cb5e8" stroke="#0c4d73" stroke-width="1.65"/>
<ellipse cx="384" cy="912.25" rx="3.4" ry="1.5" fill="#ffffff" opacity="0.85"/>
<ellipse cx="384" cy="897.75" rx="14.0" ry="6.85" fill="#1cb5e8" stroke="#0c4d73" stroke-width="1.65"/>
<ellipse cx="384" cy="892.6" rx="3.4" ry="1.5" fill="#ffffff" opacity="0.85"/>
<ellipse cx="384" cy="878.1" rx="14.0" ry="6.85" fill="#1cb5e8" stroke="#0c4d73" stroke-width="1.65"/>
<ellipse cx="384" cy="872.95" rx="3.4" ry="1.5" fill="#ffffff" opacity="0.85"/>
<path d="M226.6,643.3 L226.6,604.4 Q226.6,597.4 233.6,597.4 L359.6,597.4 Q366.6,597.4 366.6,604.4 L366.6,643.3" fill="none" stroke="#24805c" stroke-width="2.7"/>
<circle cx="297" cy="598.6" r="37.2" fill="url(#gball)" stroke="#b0bf94" stroke-width="1.1"/>
<path d="M301.18,568.89 A30,30 0 0 1 323.49,584.52" fill="none" stroke="#ffffff" stroke-width="7" stroke-linecap="round" opacity="0.6" filter="url(#blur2)"/>
<path d="M307.6,569.47 A31,31 0 0 1 318.92,576.68" fill="none" stroke="#ffffff" stroke-width="3.5" stroke-linecap="round" opacity="0.7" filter="url(#blur1)"/>
<circle cx="272.7" cy="601.1" r="1.15" fill="#202020"/><circle cx="277.48" cy="601.1" r="1.15" fill="#202020"/><circle cx="282.26" cy="601.1" r="1.15" fill="#202020"/><circle cx="287.04" cy="601.1" r="1.15" fill="#202020"/><circle cx="291.82" cy="601.1" r="1.15" fill="#202020"/><circle cx="296.6" cy="601.1" r="1.15" fill="#202020"/><circle cx="301.38" cy="601.1" r="1.15" fill="#202020"/><circle cx="306.16" cy="601.1" r="1.15" fill="#202020"/><circle cx="310.94" cy="601.1" r="1.15" fill="#202020"/><circle cx="315.72" cy="601.1" r="1.15" fill="#202020"/><circle cx="320.5" cy="601.1" r="1.15" fill="#202020"/>
<rect x="292.2" y="976.5" width="23" height="4.6" fill="#1f80c2"/><rect x="301.4" y="967.3" width="4.6" height="23" fill="#1f80c2"/>
<circle cx="203.6" cy="992.4" r="1.15" fill="#202020"/><circle cx="208.4" cy="992.4" r="1.15" fill="#202020"/><circle cx="213.2" cy="992.4" r="1.15" fill="#202020"/><circle cx="218" cy="992.4" r="1.15" fill="#202020"/><circle cx="222.8" cy="992.4" r="1.15" fill="#202020"/>
<circle cx="241.2" cy="992.4" r="1.15" fill="#202020"/><circle cx="246.06" cy="992.4" r="1.15" fill="#202020"/><circle cx="250.92" cy="992.4" r="1.15" fill="#202020"/><circle cx="255.78" cy="992.4" r="1.15" fill="#202020"/><circle cx="260.64" cy="992.4" r="1.15" fill="#202020"/><circle cx="265.5" cy="992.4" r="1.15" fill="#202020"/>
<circle cx="342.1" cy="992.4" r="1.15" fill="#202020"/><circle cx="346.85" cy="992.4" r="1.15" fill="#202020"/><circle cx="351.6" cy="992.4" r="1.15" fill="#202020"/><circle cx="356.35" cy="992.4" r="1.15" fill="#202020"/><circle cx="361.1" cy="992.4" r="1.15" fill="#202020"/><circle cx="365.85" cy="992.4" r="1.15" fill="#202020"/><circle cx="370.6" cy="992.4" r="1.15" fill="#202020"/><circle cx="375.35" cy="992.4" r="1.15" fill="#202020"/><circle cx="380.1" cy="992.4" r="1.15" fill="#202020"/><circle cx="384.85" cy="992.4" r="1.15" fill="#202020"/><circle cx="389.6" cy="992.4" r="1.15" fill="#202020"/><clipPath id="clip3"><rect x="547.6" y="658.1" width="415.8" height="292.1" rx="6"/></clipPath>
<rect x="546.3" y="656.8" width="418.4" height="294.7" rx="8" fill="#ffffff"/>
<g clip-path="url(#clip3)">
<rect x="552.6" y="659.9" width="294.8" height="51.4" fill="#d4ecf9"/>
<rect x="847.4" y="659.9" width="112" height="51.4" fill="#fde7f2"/>
<rect x="552.6" y="710.6" width="406.8" height="1.5" fill="#b870a8"/>
</g>
<rect x="845.5" y="658.1" width="1.4" height="292.1" fill="#f1c6ea"/>
<rect x="846.8" y="658.1" width="1.3" height="292.1" fill="#a8649c"/>
<rect x="546.3" y="656.8" width="418.4" height="294.7" rx="8" fill="none" stroke="#fcdcf6" stroke-width="6.2"/>
<rect x="546.3" y="656.8" width="418.4" height="294.7" rx="8" fill="none" stroke="#9e2468" stroke-width="2.6"/>
<text x="656.8" y="694.8" class="hc" textLength="24.6" lengthAdjust="spacingAndGlyphs">T</text>
<text x="681.5" y="694.8" class="hl" textLength="58.6" lengthAdjust="spacingAndGlyphs">ens</text>
<text x="863.15" y="694.8" class="hc" textLength="25.5" lengthAdjust="spacingAndGlyphs">O</text>
<text x="889.3" y="694.8" class="hl" textLength="58.6" lengthAdjust="spacingAndGlyphs">nes</text>
<rect x="565.25" y="720.9" width="7.5" height="14.55" fill="#e7a656"/>
<rect x="565.25" y="733.45" width="7.5" height="198.15" fill="#e8c48e"/>
<rect x="555.1" y="929.6" width="26.4" height="7.5" rx="3.75" fill="#1c1a1b"/>
<ellipse cx="568.3" cy="917.7" rx="14.0" ry="6.85" fill="#ef6a52" stroke="#6e1a14" stroke-width="1.65"/>
<ellipse cx="568.3" cy="912.55" rx="3.4" ry="1.5" fill="#ffffff" opacity="0.85"/>
<ellipse cx="568.3" cy="898.05" rx="14.0" ry="6.85" fill="#ef6a52" stroke="#6e1a14" stroke-width="1.65"/>
<ellipse cx="568.3" cy="892.9" rx="3.4" ry="1.5" fill="#ffffff" opacity="0.85"/>
<ellipse cx="568.3" cy="878.4" rx="14.0" ry="6.85" fill="#ef6a52" stroke="#6e1a14" stroke-width="1.65"/>
<ellipse cx="568.3" cy="873.25" rx="3.4" ry="1.5" fill="#ffffff" opacity="0.85"/>
<ellipse cx="568.3" cy="858.75" rx="14.0" ry="6.85" fill="#ef6a52" stroke="#6e1a14" stroke-width="1.65"/>
<ellipse cx="568.3" cy="853.6" rx="3.4" ry="1.5" fill="#ffffff" opacity="0.85"/>
<ellipse cx="568.3" cy="839.1" rx="14.0" ry="6.85" fill="#ef6a52" stroke="#6e1a14" stroke-width="1.65"/>
<ellipse cx="568.3" cy="833.95" rx="3.4" ry="1.5" fill="#ffffff" opacity="0.85"/>
<ellipse cx="568.3" cy="819.45" rx="14.0" ry="6.85" fill="#ef6a52" stroke="#6e1a14" stroke-width="1.65"/>
<ellipse cx="568.3" cy="814.3" rx="3.4" ry="1.5" fill="#ffffff" opacity="0.85"/>
<ellipse cx="568.3" cy="799.8" rx="14.0" ry="6.85" fill="#ef6a52" stroke="#6e1a14" stroke-width="1.65"/>
<ellipse cx="568.3" cy="794.65" rx="3.4" ry="1.5" fill="#ffffff" opacity="0.85"/>
<ellipse cx="568.3" cy="780.15" rx="14.0" ry="6.85" fill="#ef6a52" stroke="#6e1a14" stroke-width="1.65"/>
<ellipse cx="568.3" cy="775" rx="3.4" ry="1.5" fill="#ffffff" opacity="0.85"/>
<ellipse cx="568.3" cy="760.5" rx="14.0" ry="6.85" fill="#ef6a52" stroke="#6e1a14" stroke-width="1.65"/>
<ellipse cx="568.3" cy="755.35" rx="3.4" ry="1.5" fill="#ffffff" opacity="0.85"/>
<ellipse cx="568.3" cy="740.85" rx="14.0" ry="6.85" fill="#ef6a52" stroke="#6e1a14" stroke-width="1.65"/>
<ellipse cx="568.3" cy="735.7" rx="3.4" ry="1.5" fill="#ffffff" opacity="0.85"/>
<rect x="616.95" y="720.9" width="7.5" height="14.55" fill="#e7a656"/>
<rect x="616.95" y="733.45" width="7.5" height="198.15" fill="#e8c48e"/>
<rect x="606.8" y="929.6" width="26.4" height="7.5" rx="3.75" fill="#1c1a1b"/>
<ellipse cx="620" cy="917.7" rx="14.0" ry="6.85" fill="#ef6a52" stroke="#6e1a14" stroke-width="1.65"/>
<ellipse cx="620" cy="912.55" rx="3.4" ry="1.5" fill="#ffffff" opacity="0.85"/>
<ellipse cx="620" cy="898.05" rx="14.0" ry="6.85" fill="#ef6a52" stroke="#6e1a14" stroke-width="1.65"/>
<ellipse cx="620" cy="892.9" rx="3.4" ry="1.5" fill="#ffffff" opacity="0.85"/>
<ellipse cx="620" cy="878.4" rx="14.0" ry="6.85" fill="#ef6a52" stroke="#6e1a14" stroke-width="1.65"/>
<ellipse cx="620" cy="873.25" rx="3.4" ry="1.5" fill="#ffffff" opacity="0.85"/>
<ellipse cx="620" cy="858.75" rx="14.0" ry="6.85" fill="#ef6a52" stroke="#6e1a14" stroke-width="1.65"/>
<ellipse cx="620" cy="853.6" rx="3.4" ry="1.5" fill="#ffffff" opacity="0.85"/>
<ellipse cx="620" cy="839.1" rx="14.0" ry="6.85" fill="#ef6a52" stroke="#6e1a14" stroke-width="1.65"/>
<ellipse cx="620" cy="833.95" rx="3.4" ry="1.5" fill="#ffffff" opacity="0.85"/>
<ellipse cx="620" cy="819.45" rx="14.0" ry="6.85" fill="#ef6a52" stroke="#6e1a14" stroke-width="1.65"/>
<ellipse cx="620" cy="814.3" rx="3.4" ry="1.5" fill="#ffffff" opacity="0.85"/>
<ellipse cx="620" cy="799.8" rx="14.0" ry="6.85" fill="#ef6a52" stroke="#6e1a14" stroke-width="1.65"/>
<ellipse cx="620" cy="794.65" rx="3.4" ry="1.5" fill="#ffffff" opacity="0.85"/>
<ellipse cx="620" cy="780.15" rx="14.0" ry="6.85" fill="#ef6a52" stroke="#6e1a14" stroke-width="1.65"/>
<ellipse cx="620" cy="775" rx="3.4" ry="1.5" fill="#ffffff" opacity="0.85"/>
<ellipse cx="620" cy="760.5" rx="14.0" ry="6.85" fill="#ef6a52" stroke="#6e1a14" stroke-width="1.65"/>
<ellipse cx="620" cy="755.35" rx="3.4" ry="1.5" fill="#ffffff" opacity="0.85"/>
<ellipse cx="620" cy="740.85" rx="14.0" ry="6.85" fill="#ef6a52" stroke="#6e1a14" stroke-width="1.65"/>
<ellipse cx="620" cy="735.7" rx="3.4" ry="1.5" fill="#ffffff" opacity="0.85"/>
<rect x="669.15" y="720.9" width="7.5" height="14.55" fill="#e7a656"/>
<rect x="669.15" y="733.45" width="7.5" height="198.15" fill="#e8c48e"/>
<rect x="659" y="929.6" width="26.4" height="7.5" rx="3.75" fill="#1c1a1b"/>
<ellipse cx="672.2" cy="917.7" rx="14.0" ry="6.85" fill="#ef6a52" stroke="#6e1a14" stroke-width="1.65"/>
<ellipse cx="672.2" cy="912.55" rx="3.4" ry="1.5" fill="#ffffff" opacity="0.85"/>
<ellipse cx="672.2" cy="898.05" rx="14.0" ry="6.85" fill="#ef6a52" stroke="#6e1a14" stroke-width="1.65"/>
<ellipse cx="672.2" cy="892.9" rx="3.4" ry="1.5" fill="#ffffff" opacity="0.85"/>
<ellipse cx="672.2" cy="878.4" rx="14.0" ry="6.85" fill="#ef6a52" stroke="#6e1a14" stroke-width="1.65"/>
<ellipse cx="672.2" cy="873.25" rx="3.4" ry="1.5" fill="#ffffff" opacity="0.85"/>
<ellipse cx="672.2" cy="858.75" rx="14.0" ry="6.85" fill="#ef6a52" stroke="#6e1a14" stroke-width="1.65"/>
<ellipse cx="672.2" cy="853.6" rx="3.4" ry="1.5" fill="#ffffff" opacity="0.85"/>
<ellipse cx="672.2" cy="839.1" rx="14.0" ry="6.85" fill="#ef6a52" stroke="#6e1a14" stroke-width="1.65"/>
<ellipse cx="672.2" cy="833.95" rx="3.4" ry="1.5" fill="#ffffff" opacity="0.85"/>
<ellipse cx="672.2" cy="819.45" rx="14.0" ry="6.85" fill="#ef6a52" stroke="#6e1a14" stroke-width="1.65"/>
<ellipse cx="672.2" cy="814.3" rx="3.4" ry="1.5" fill="#ffffff" opacity="0.85"/>
<ellipse cx="672.2" cy="799.8" rx="14.0" ry="6.85" fill="#ef6a52" stroke="#6e1a14" stroke-width="1.65"/>
<ellipse cx="672.2" cy="794.65" rx="3.4" ry="1.5" fill="#ffffff" opacity="0.85"/>
<ellipse cx="672.2" cy="780.15" rx="14.0" ry="6.85" fill="#ef6a52" stroke="#6e1a14" stroke-width="1.65"/>
<ellipse cx="672.2" cy="775" rx="3.4" ry="1.5" fill="#ffffff" opacity="0.85"/>
<ellipse cx="672.2" cy="760.5" rx="14.0" ry="6.85" fill="#ef6a52" stroke="#6e1a14" stroke-width="1.65"/>
<ellipse cx="672.2" cy="755.35" rx="3.4" ry="1.5" fill="#ffffff" opacity="0.85"/>
<ellipse cx="672.2" cy="740.85" rx="14.0" ry="6.85" fill="#ef6a52" stroke="#6e1a14" stroke-width="1.65"/>
<ellipse cx="672.2" cy="735.7" rx="3.4" ry="1.5" fill="#ffffff" opacity="0.85"/>
<rect x="720.85" y="720.9" width="7.5" height="14.55" fill="#e7a656"/>
<rect x="720.85" y="733.45" width="7.5" height="198.15" fill="#e8c48e"/>
<rect x="710.7" y="929.6" width="26.4" height="7.5" rx="3.75" fill="#1c1a1b"/>
<ellipse cx="723.9" cy="917.7" rx="14.0" ry="6.85" fill="#ef6a52" stroke="#6e1a14" stroke-width="1.65"/>
<ellipse cx="723.9" cy="912.55" rx="3.4" ry="1.5" fill="#ffffff" opacity="0.85"/>
<ellipse cx="723.9" cy="898.05" rx="14.0" ry="6.85" fill="#ef6a52" stroke="#6e1a14" stroke-width="1.65"/>
<ellipse cx="723.9" cy="892.9" rx="3.4" ry="1.5" fill="#ffffff" opacity="0.85"/>
<ellipse cx="723.9" cy="878.4" rx="14.0" ry="6.85" fill="#ef6a52" stroke="#6e1a14" stroke-width="1.65"/>
<ellipse cx="723.9" cy="873.25" rx="3.4" ry="1.5" fill="#ffffff" opacity="0.85"/>
<ellipse cx="723.9" cy="858.75" rx="14.0" ry="6.85" fill="#ef6a52" stroke="#6e1a14" stroke-width="1.65"/>
<ellipse cx="723.9" cy="853.6" rx="3.4" ry="1.5" fill="#ffffff" opacity="0.85"/>
<ellipse cx="723.9" cy="839.1" rx="14.0" ry="6.85" fill="#ef6a52" stroke="#6e1a14" stroke-width="1.65"/>
<ellipse cx="723.9" cy="833.95" rx="3.4" ry="1.5" fill="#ffffff" opacity="0.85"/>
<ellipse cx="723.9" cy="819.45" rx="14.0" ry="6.85" fill="#ef6a52" stroke="#6e1a14" stroke-width="1.65"/>
<ellipse cx="723.9" cy="814.3" rx="3.4" ry="1.5" fill="#ffffff" opacity="0.85"/>
<ellipse cx="723.9" cy="799.8" rx="14.0" ry="6.85" fill="#ef6a52" stroke="#6e1a14" stroke-width="1.65"/>
<ellipse cx="723.9" cy="794.65" rx="3.4" ry="1.5" fill="#ffffff" opacity="0.85"/>
<ellipse cx="723.9" cy="780.15" rx="14.0" ry="6.85" fill="#ef6a52" stroke="#6e1a14" stroke-width="1.65"/>
<ellipse cx="723.9" cy="775" rx="3.4" ry="1.5" fill="#ffffff" opacity="0.85"/>
<ellipse cx="723.9" cy="760.5" rx="14.0" ry="6.85" fill="#ef6a52" stroke="#6e1a14" stroke-width="1.65"/>
<ellipse cx="723.9" cy="755.35" rx="3.4" ry="1.5" fill="#ffffff" opacity="0.85"/>
<ellipse cx="723.9" cy="740.85" rx="14.0" ry="6.85" fill="#ef6a52" stroke="#6e1a14" stroke-width="1.65"/>
<ellipse cx="723.9" cy="735.7" rx="3.4" ry="1.5" fill="#ffffff" opacity="0.85"/>
<rect x="772.55" y="720.9" width="7.5" height="14.55" fill="#e7a656"/>
<rect x="772.55" y="733.45" width="7.5" height="198.15" fill="#e8c48e"/>
<rect x="762.4" y="929.6" width="26.4" height="7.5" rx="3.75" fill="#1c1a1b"/>
<ellipse cx="775.6" cy="917.7" rx="14.0" ry="6.85" fill="#ef6a52" stroke="#6e1a14" stroke-width="1.65"/>
<ellipse cx="775.6" cy="912.55" rx="3.4" ry="1.5" fill="#ffffff" opacity="0.85"/>
<ellipse cx="775.6" cy="898.05" rx="14.0" ry="6.85" fill="#ef6a52" stroke="#6e1a14" stroke-width="1.65"/>
<ellipse cx="775.6" cy="892.9" rx="3.4" ry="1.5" fill="#ffffff" opacity="0.85"/>
<ellipse cx="775.6" cy="878.4" rx="14.0" ry="6.85" fill="#ef6a52" stroke="#6e1a14" stroke-width="1.65"/>
<ellipse cx="775.6" cy="873.25" rx="3.4" ry="1.5" fill="#ffffff" opacity="0.85"/>
<ellipse cx="775.6" cy="858.75" rx="14.0" ry="6.85" fill="#ef6a52" stroke="#6e1a14" stroke-width="1.65"/>
<ellipse cx="775.6" cy="853.6" rx="3.4" ry="1.5" fill="#ffffff" opacity="0.85"/>
<ellipse cx="775.6" cy="839.1" rx="14.0" ry="6.85" fill="#ef6a52" stroke="#6e1a14" stroke-width="1.65"/>
<ellipse cx="775.6" cy="833.95" rx="3.4" ry="1.5" fill="#ffffff" opacity="0.85"/>
<ellipse cx="775.6" cy="819.45" rx="14.0" ry="6.85" fill="#ef6a52" stroke="#6e1a14" stroke-width="1.65"/>
<ellipse cx="775.6" cy="814.3" rx="3.4" ry="1.5" fill="#ffffff" opacity="0.85"/>
<ellipse cx="775.6" cy="799.8" rx="14.0" ry="6.85" fill="#ef6a52" stroke="#6e1a14" stroke-width="1.65"/>
<ellipse cx="775.6" cy="794.65" rx="3.4" ry="1.5" fill="#ffffff" opacity="0.85"/>
<ellipse cx="775.6" cy="780.15" rx="14.0" ry="6.85" fill="#ef6a52" stroke="#6e1a14" stroke-width="1.65"/>
<ellipse cx="775.6" cy="775" rx="3.4" ry="1.5" fill="#ffffff" opacity="0.85"/>
<ellipse cx="775.6" cy="760.5" rx="14.0" ry="6.85" fill="#ef6a52" stroke="#6e1a14" stroke-width="1.65"/>
<ellipse cx="775.6" cy="755.35" rx="3.4" ry="1.5" fill="#ffffff" opacity="0.85"/>
<ellipse cx="775.6" cy="740.85" rx="14.0" ry="6.85" fill="#ef6a52" stroke="#6e1a14" stroke-width="1.65"/>
<ellipse cx="775.6" cy="735.7" rx="3.4" ry="1.5" fill="#ffffff" opacity="0.85"/>
<rect x="824.25" y="720.9" width="7.5" height="14.55" fill="#e7a656"/>
<rect x="824.25" y="733.45" width="7.5" height="198.15" fill="#e8c48e"/>
<rect x="814.1" y="929.6" width="26.4" height="7.5" rx="3.75" fill="#1c1a1b"/>
<ellipse cx="827.3" cy="917.7" rx="14.0" ry="6.85" fill="#ef6a52" stroke="#6e1a14" stroke-width="1.65"/>
<ellipse cx="827.3" cy="912.55" rx="3.4" ry="1.5" fill="#ffffff" opacity="0.85"/>
<ellipse cx="827.3" cy="898.05" rx="14.0" ry="6.85" fill="#ef6a52" stroke="#6e1a14" stroke-width="1.65"/>
<ellipse cx="827.3" cy="892.9" rx="3.4" ry="1.5" fill="#ffffff" opacity="0.85"/>
<ellipse cx="827.3" cy="878.4" rx="14.0" ry="6.85" fill="#ef6a52" stroke="#6e1a14" stroke-width="1.65"/>
<ellipse cx="827.3" cy="873.25" rx="3.4" ry="1.5" fill="#ffffff" opacity="0.85"/>
<ellipse cx="827.3" cy="858.75" rx="14.0" ry="6.85" fill="#ef6a52" stroke="#6e1a14" stroke-width="1.65"/>
<ellipse cx="827.3" cy="853.6" rx="3.4" ry="1.5" fill="#ffffff" opacity="0.85"/>
<ellipse cx="827.3" cy="839.1" rx="14.0" ry="6.85" fill="#ef6a52" stroke="#6e1a14" stroke-width="1.65"/>
<ellipse cx="827.3" cy="833.95" rx="3.4" ry="1.5" fill="#ffffff" opacity="0.85"/>
<ellipse cx="827.3" cy="819.45" rx="14.0" ry="6.85" fill="#ef6a52" stroke="#6e1a14" stroke-width="1.65"/>
<ellipse cx="827.3" cy="814.3" rx="3.4" ry="1.5" fill="#ffffff" opacity="0.85"/>
<ellipse cx="827.3" cy="799.8" rx="14.0" ry="6.85" fill="#ef6a52" stroke="#6e1a14" stroke-width="1.65"/>
<ellipse cx="827.3" cy="794.65" rx="3.4" ry="1.5" fill="#ffffff" opacity="0.85"/>
<ellipse cx="827.3" cy="780.15" rx="14.0" ry="6.85" fill="#ef6a52" stroke="#6e1a14" stroke-width="1.65"/>
<ellipse cx="827.3" cy="775" rx="3.4" ry="1.5" fill="#ffffff" opacity="0.85"/>
<ellipse cx="827.3" cy="760.5" rx="14.0" ry="6.85" fill="#ef6a52" stroke="#6e1a14" stroke-width="1.65"/>
<ellipse cx="827.3" cy="755.35" rx="3.4" ry="1.5" fill="#ffffff" opacity="0.85"/>
<ellipse cx="827.3" cy="740.85" rx="14.0" ry="6.85" fill="#ef6a52" stroke="#6e1a14" stroke-width="1.65"/>
<ellipse cx="827.3" cy="735.7" rx="3.4" ry="1.5" fill="#ffffff" opacity="0.85"/>
<rect x="891.95" y="720.9" width="7.5" height="171.75" fill="#e7a656"/>
<rect x="891.95" y="890.65" width="7.5" height="40.95" fill="#e8c48e"/>
<rect x="881.8" y="929.6" width="26.4" height="7.5" rx="3.75" fill="#1c1a1b"/>
<ellipse cx="895" cy="917.7" rx="14.0" ry="6.85" fill="#ef6a52" stroke="#6e1a14" stroke-width="1.65"/>
<ellipse cx="895" cy="912.55" rx="3.4" ry="1.5" fill="#ffffff" opacity="0.85"/>
<ellipse cx="895" cy="898.05" rx="14.0" ry="6.85" fill="#ef6a52" stroke="#6e1a14" stroke-width="1.65"/>
<ellipse cx="895" cy="892.9" rx="3.4" ry="1.5" fill="#ffffff" opacity="0.85"/>
<path d="M691.6,655.5 L691.6,616.6 Q691.6,609.6 698.6,609.6 L824.6,609.6 Q831.6,609.6 831.6,616.6 L831.6,655.5" fill="none" stroke="#24805c" stroke-width="2.7"/>
<circle cx="762" cy="610.8" r="37.2" fill="url(#gball)" stroke="#b0bf94" stroke-width="1.1"/>
<path d="M766.18,581.09 A30,30 0 0 1 788.49,596.72" fill="none" stroke="#ffffff" stroke-width="7" stroke-linecap="round" opacity="0.6" filter="url(#blur2)"/>
<path d="M772.6,581.67 A31,31 0 0 1 783.92,588.88" fill="none" stroke="#ffffff" stroke-width="3.5" stroke-linecap="round" opacity="0.7" filter="url(#blur1)"/>
<circle cx="737.7" cy="613.3" r="1.15" fill="#202020"/><circle cx="742.48" cy="613.3" r="1.15" fill="#202020"/><circle cx="747.26" cy="613.3" r="1.15" fill="#202020"/><circle cx="752.04" cy="613.3" r="1.15" fill="#202020"/><circle cx="756.82" cy="613.3" r="1.15" fill="#202020"/><circle cx="761.6" cy="613.3" r="1.15" fill="#202020"/><circle cx="766.38" cy="613.3" r="1.15" fill="#202020"/><circle cx="771.16" cy="613.3" r="1.15" fill="#202020"/><circle cx="775.94" cy="613.3" r="1.15" fill="#202020"/><circle cx="780.72" cy="613.3" r="1.15" fill="#202020"/><circle cx="785.5" cy="613.3" r="1.15" fill="#202020"/>
<rect x="750.1" y="976.5" width="23" height="4.6" fill="#1f80c2"/><rect x="759.3" y="967.3" width="4.6" height="23" fill="#1f80c2"/>
<circle cx="668.6" cy="992.4" r="1.15" fill="#202020"/><circle cx="673.37" cy="992.4" r="1.15" fill="#202020"/><circle cx="678.14" cy="992.4" r="1.15" fill="#202020"/><circle cx="682.91" cy="992.4" r="1.15" fill="#202020"/><circle cx="687.68" cy="992.4" r="1.15" fill="#202020"/><circle cx="692.45" cy="992.4" r="1.15" fill="#202020"/><circle cx="697.22" cy="992.4" r="1.15" fill="#202020"/><circle cx="701.99" cy="992.4" r="1.15" fill="#202020"/><circle cx="706.76" cy="992.4" r="1.15" fill="#202020"/><circle cx="711.53" cy="992.4" r="1.15" fill="#202020"/><circle cx="716.3" cy="992.4" r="1.15" fill="#202020"/>
<circle cx="807.1" cy="992.4" r="1.15" fill="#202020"/><circle cx="811.85" cy="992.4" r="1.15" fill="#202020"/><circle cx="816.6" cy="992.4" r="1.15" fill="#202020"/><circle cx="821.35" cy="992.4" r="1.15" fill="#202020"/><circle cx="826.1" cy="992.4" r="1.15" fill="#202020"/><circle cx="830.85" cy="992.4" r="1.15" fill="#202020"/><circle cx="835.6" cy="992.4" r="1.15" fill="#202020"/><circle cx="840.35" cy="992.4" r="1.15" fill="#202020"/><circle cx="845.1" cy="992.4" r="1.15" fill="#202020"/><circle cx="849.85" cy="992.4" r="1.15" fill="#202020"/><circle cx="854.6" cy="992.4" r="1.15" fill="#202020"/><clipPath id="clip4"><rect x="88.6" y="1094.9" width="408.8" height="304.5" rx="6"/></clipPath>
<rect x="87.3" y="1093.6" width="411.4" height="307.1" rx="8" fill="#ffffff"/>
<g clip-path="url(#clip4)">
<rect x="88.6" y="1096.7" width="214.4" height="51.7" fill="#d4ecf9"/>
<rect x="303" y="1096.7" width="195.4" height="51.7" fill="#fde7f2"/>
<rect x="88.6" y="1147.7" width="409.8" height="1.5" fill="#b870a8"/>
</g>
<rect x="301.1" y="1094.9" width="1.4" height="304.5" fill="#f1c6ea"/>
<rect x="302.4" y="1094.9" width="1.3" height="304.5" fill="#a8649c"/>
<rect x="87.3" y="1093.6" width="411.4" height="307.1" rx="8" fill="none" stroke="#fcdcf6" stroke-width="6.2"/>
<rect x="87.3" y="1093.6" width="411.4" height="307.1" rx="8" fill="none" stroke="#9e2468" stroke-width="2.6"/>
<text x="152.6" y="1131.6" class="hc" textLength="24.6" lengthAdjust="spacingAndGlyphs">T</text>
<text x="177.3" y="1131.6" class="hl" textLength="58.6" lengthAdjust="spacingAndGlyphs">ens</text>
<text x="357.95" y="1131.6" class="hc" textLength="25.5" lengthAdjust="spacingAndGlyphs">O</text>
<text x="384.1" y="1131.6" class="hl" textLength="58.6" lengthAdjust="spacingAndGlyphs">nes</text>
<rect x="145.95" y="1170.8" width="7.5" height="14.35" fill="#e7a656"/>
<rect x="145.95" y="1183.15" width="7.5" height="198.15" fill="#e8c48e"/>
<rect x="135.8" y="1379.3" width="26.4" height="7.5" rx="3.75" fill="#1c1a1b"/>
<ellipse cx="149" cy="1367.4" rx="14.0" ry="6.85" fill="#1cb5e8" stroke="#0c4d73" stroke-width="1.65"/>
<ellipse cx="149" cy="1362.25" rx="3.4" ry="1.5" fill="#ffffff" opacity="0.85"/>
<ellipse cx="149" cy="1347.75" rx="14.0" ry="6.85" fill="#1cb5e8" stroke="#0c4d73" stroke-width="1.65"/>
<ellipse cx="149" cy="1342.6" rx="3.4" ry="1.5" fill="#ffffff" opacity="0.85"/>
<ellipse cx="149" cy="1328.1" rx="14.0" ry="6.85" fill="#1cb5e8" stroke="#0c4d73" stroke-width="1.65"/>
<ellipse cx="149" cy="1322.95" rx="3.4" ry="1.5" fill="#ffffff" opacity="0.85"/>
<ellipse cx="149" cy="1308.45" rx="14.0" ry="6.85" fill="#1cb5e8" stroke="#0c4d73" stroke-width="1.65"/>
<ellipse cx="149" cy="1303.3" rx="3.4" ry="1.5" fill="#ffffff" opacity="0.85"/>
<ellipse cx="149" cy="1288.8" rx="14.0" ry="6.85" fill="#1cb5e8" stroke="#0c4d73" stroke-width="1.65"/>
<ellipse cx="149" cy="1283.65" rx="3.4" ry="1.5" fill="#ffffff" opacity="0.85"/>
<ellipse cx="149" cy="1269.15" rx="14.0" ry="6.85" fill="#1cb5e8" stroke="#0c4d73" stroke-width="1.65"/>
<ellipse cx="149" cy="1264" rx="3.4" ry="1.5" fill="#ffffff" opacity="0.85"/>
<ellipse cx="149" cy="1249.5" rx="14.0" ry="6.85" fill="#1cb5e8" stroke="#0c4d73" stroke-width="1.65"/>
<ellipse cx="149" cy="1244.35" rx="3.4" ry="1.5" fill="#ffffff" opacity="0.85"/>
<ellipse cx="149" cy="1229.85" rx="14.0" ry="6.85" fill="#1cb5e8" stroke="#0c4d73" stroke-width="1.65"/>
<ellipse cx="149" cy="1224.7" rx="3.4" ry="1.5" fill="#ffffff" opacity="0.85"/>
<ellipse cx="149" cy="1210.2" rx="14.0" ry="6.85" fill="#1cb5e8" stroke="#0c4d73" stroke-width="1.65"/>
<ellipse cx="149" cy="1205.05" rx="3.4" ry="1.5" fill="#ffffff" opacity="0.85"/>
<ellipse cx="149" cy="1190.55" rx="14.0" ry="6.85" fill="#1cb5e8" stroke="#0c4d73" stroke-width="1.65"/>
<ellipse cx="149" cy="1185.4" rx="3.4" ry="1.5" fill="#ffffff" opacity="0.85"/>
<rect x="214.65" y="1170.8" width="7.5" height="14.35" fill="#e7a656"/>
<rect x="214.65" y="1183.15" width="7.5" height="198.15" fill="#e8c48e"/>
<rect x="204.5" y="1379.3" width="26.4" height="7.5" rx="3.75" fill="#1c1a1b"/>
<ellipse cx="217.7" cy="1367.4" rx="14.0" ry="6.85" fill="#1cb5e8" stroke="#0c4d73" stroke-width="1.65"/>
<ellipse cx="217.7" cy="1362.25" rx="3.4" ry="1.5" fill="#ffffff" opacity="0.85"/>
<ellipse cx="217.7" cy="1347.75" rx="14.0" ry="6.85" fill="#1cb5e8" stroke="#0c4d73" stroke-width="1.65"/>
<ellipse cx="217.7" cy="1342.6" rx="3.4" ry="1.5" fill="#ffffff" opacity="0.85"/>
<ellipse cx="217.7" cy="1328.1" rx="14.0" ry="6.85" fill="#1cb5e8" stroke="#0c4d73" stroke-width="1.65"/>
<ellipse cx="217.7" cy="1322.95" rx="3.4" ry="1.5" fill="#ffffff" opacity="0.85"/>
<ellipse cx="217.7" cy="1308.45" rx="14.0" ry="6.85" fill="#1cb5e8" stroke="#0c4d73" stroke-width="1.65"/>
<ellipse cx="217.7" cy="1303.3" rx="3.4" ry="1.5" fill="#ffffff" opacity="0.85"/>
<ellipse cx="217.7" cy="1288.8" rx="14.0" ry="6.85" fill="#1cb5e8" stroke="#0c4d73" stroke-width="1.65"/>
<ellipse cx="217.7" cy="1283.65" rx="3.4" ry="1.5" fill="#ffffff" opacity="0.85"/>
<ellipse cx="217.7" cy="1269.15" rx="14.0" ry="6.85" fill="#1cb5e8" stroke="#0c4d73" stroke-width="1.65"/>
<ellipse cx="217.7" cy="1264" rx="3.4" ry="1.5" fill="#ffffff" opacity="0.85"/>
<ellipse cx="217.7" cy="1249.5" rx="14.0" ry="6.85" fill="#1cb5e8" stroke="#0c4d73" stroke-width="1.65"/>
<ellipse cx="217.7" cy="1244.35" rx="3.4" ry="1.5" fill="#ffffff" opacity="0.85"/>
<ellipse cx="217.7" cy="1229.85" rx="14.0" ry="6.85" fill="#1cb5e8" stroke="#0c4d73" stroke-width="1.65"/>
<ellipse cx="217.7" cy="1224.7" rx="3.4" ry="1.5" fill="#ffffff" opacity="0.85"/>
<ellipse cx="217.7" cy="1210.2" rx="14.0" ry="6.85" fill="#1cb5e8" stroke="#0c4d73" stroke-width="1.65"/>
<ellipse cx="217.7" cy="1205.05" rx="3.4" ry="1.5" fill="#ffffff" opacity="0.85"/>
<ellipse cx="217.7" cy="1190.55" rx="14.0" ry="6.85" fill="#1cb5e8" stroke="#0c4d73" stroke-width="1.65"/>
<ellipse cx="217.7" cy="1185.4" rx="3.4" ry="1.5" fill="#ffffff" opacity="0.85"/>
<rect x="380.95" y="1170.8" width="7.5" height="73.3" fill="#e7a656"/>
<rect x="380.95" y="1242.1" width="7.5" height="139.2" fill="#e8c48e"/>
<rect x="370.8" y="1379.3" width="26.4" height="7.5" rx="3.75" fill="#1c1a1b"/>
<ellipse cx="384" cy="1367.4" rx="14.0" ry="6.85" fill="#1cb5e8" stroke="#0c4d73" stroke-width="1.65"/>
<ellipse cx="384" cy="1362.25" rx="3.4" ry="1.5" fill="#ffffff" opacity="0.85"/>
<ellipse cx="384" cy="1347.75" rx="14.0" ry="6.85" fill="#1cb5e8" stroke="#0c4d73" stroke-width="1.65"/>
<ellipse cx="384" cy="1342.6" rx="3.4" ry="1.5" fill="#ffffff" opacity="0.85"/>
<ellipse cx="384" cy="1328.1" rx="14.0" ry="6.85" fill="#1cb5e8" stroke="#0c4d73" stroke-width="1.65"/>
<ellipse cx="384" cy="1322.95" rx="3.4" ry="1.5" fill="#ffffff" opacity="0.85"/>
<ellipse cx="384" cy="1308.45" rx="14.0" ry="6.85" fill="#1cb5e8" stroke="#0c4d73" stroke-width="1.65"/>
<ellipse cx="384" cy="1303.3" rx="3.4" ry="1.5" fill="#ffffff" opacity="0.85"/>
<ellipse cx="384" cy="1288.8" rx="14.0" ry="6.85" fill="#1cb5e8" stroke="#0c4d73" stroke-width="1.65"/>
<ellipse cx="384" cy="1283.65" rx="3.4" ry="1.5" fill="#ffffff" opacity="0.85"/>
<ellipse cx="384" cy="1269.15" rx="14.0" ry="6.85" fill="#1cb5e8" stroke="#0c4d73" stroke-width="1.65"/>
<ellipse cx="384" cy="1264" rx="3.4" ry="1.5" fill="#ffffff" opacity="0.85"/>
<ellipse cx="384" cy="1249.5" rx="14.0" ry="6.85" fill="#1cb5e8" stroke="#0c4d73" stroke-width="1.65"/>
<ellipse cx="384" cy="1244.35" rx="3.4" ry="1.5" fill="#ffffff" opacity="0.85"/>
<path d="M226.6,1092.3 L226.6,1053.4 Q226.6,1046.4 233.6,1046.4 L359.6,1046.4 Q366.6,1046.4 366.6,1053.4 L366.6,1092.3" fill="none" stroke="#24805c" stroke-width="2.7"/>
<circle cx="297" cy="1047.6" r="37.2" fill="url(#gball)" stroke="#b0bf94" stroke-width="1.1"/>
<path d="M301.18,1017.89 A30,30 0 0 1 323.49,1033.52" fill="none" stroke="#ffffff" stroke-width="7" stroke-linecap="round" opacity="0.6" filter="url(#blur2)"/>
<path d="M307.6,1018.47 A31,31 0 0 1 318.92,1025.68" fill="none" stroke="#ffffff" stroke-width="3.5" stroke-linecap="round" opacity="0.7" filter="url(#blur1)"/>
<circle cx="272.7" cy="1050.1" r="1.15" fill="#202020"/><circle cx="277.48" cy="1050.1" r="1.15" fill="#202020"/><circle cx="282.26" cy="1050.1" r="1.15" fill="#202020"/><circle cx="287.04" cy="1050.1" r="1.15" fill="#202020"/><circle cx="291.82" cy="1050.1" r="1.15" fill="#202020"/><circle cx="296.6" cy="1050.1" r="1.15" fill="#202020"/><circle cx="301.38" cy="1050.1" r="1.15" fill="#202020"/><circle cx="306.16" cy="1050.1" r="1.15" fill="#202020"/><circle cx="310.94" cy="1050.1" r="1.15" fill="#202020"/><circle cx="315.72" cy="1050.1" r="1.15" fill="#202020"/><circle cx="320.5" cy="1050.1" r="1.15" fill="#202020"/>
<rect x="285.1" y="1425.7" width="23" height="4.6" fill="#1f80c2"/><rect x="294.3" y="1416.5" width="4.6" height="23" fill="#1f80c2"/>
<circle cx="203.6" cy="1441.6" r="1.15" fill="#202020"/><circle cx="208.37" cy="1441.6" r="1.15" fill="#202020"/><circle cx="213.14" cy="1441.6" r="1.15" fill="#202020"/><circle cx="217.91" cy="1441.6" r="1.15" fill="#202020"/><circle cx="222.68" cy="1441.6" r="1.15" fill="#202020"/><circle cx="227.45" cy="1441.6" r="1.15" fill="#202020"/><circle cx="232.22" cy="1441.6" r="1.15" fill="#202020"/><circle cx="236.99" cy="1441.6" r="1.15" fill="#202020"/><circle cx="241.76" cy="1441.6" r="1.15" fill="#202020"/><circle cx="246.53" cy="1441.6" r="1.15" fill="#202020"/><circle cx="251.3" cy="1441.6" r="1.15" fill="#202020"/>
<circle cx="342.1" cy="1441.6" r="1.15" fill="#202020"/><circle cx="346.85" cy="1441.6" r="1.15" fill="#202020"/><circle cx="351.6" cy="1441.6" r="1.15" fill="#202020"/><circle cx="356.35" cy="1441.6" r="1.15" fill="#202020"/><circle cx="361.1" cy="1441.6" r="1.15" fill="#202020"/><circle cx="365.85" cy="1441.6" r="1.15" fill="#202020"/><circle cx="370.6" cy="1441.6" r="1.15" fill="#202020"/><circle cx="375.35" cy="1441.6" r="1.15" fill="#202020"/><circle cx="380.1" cy="1441.6" r="1.15" fill="#202020"/><circle cx="384.85" cy="1441.6" r="1.15" fill="#202020"/><circle cx="389.6" cy="1441.6" r="1.15" fill="#202020"/><clipPath id="clip5"><rect x="547.6" y="1108.1" width="415.8" height="291.3" rx="6"/></clipPath>
<rect x="546.3" y="1106.8" width="418.4" height="293.9" rx="8" fill="#ffffff"/>
<g clip-path="url(#clip5)">
<rect x="552.1" y="1109.9" width="301.2" height="50.6" fill="#d4ecf9"/>
<rect x="853.3" y="1109.9" width="106.6" height="50.6" fill="#fde7f2"/>
<rect x="552.1" y="1159.8" width="407.8" height="1.5" fill="#b870a8"/>
</g>
<rect x="851.4" y="1108.1" width="1.4" height="291.3" fill="#f1c6ea"/>
<rect x="852.7" y="1108.1" width="1.3" height="291.3" fill="#a8649c"/>
<rect x="546.3" y="1106.8" width="418.4" height="293.9" rx="8" fill="none" stroke="#fcdcf6" stroke-width="6.2"/>
<rect x="546.3" y="1106.8" width="418.4" height="293.9" rx="8" fill="none" stroke="#9e2468" stroke-width="2.6"/>
<text x="659.5" y="1144.8" class="hc" textLength="24.6" lengthAdjust="spacingAndGlyphs">T</text>
<text x="684.2" y="1144.8" class="hl" textLength="58.6" lengthAdjust="spacingAndGlyphs">ens</text>
<text x="866.1" y="1144.8" class="hc" textLength="25.5" lengthAdjust="spacingAndGlyphs">O</text>
<text x="892.25" y="1144.8" class="hl" textLength="58.6" lengthAdjust="spacingAndGlyphs">nes</text>
<rect x="561.35" y="1170.9" width="7.5" height="14.55" fill="#e7a656"/>
<rect x="561.35" y="1183.45" width="7.5" height="198.15" fill="#e8c48e"/>
<rect x="552.14" y="1379.6" width="24.51" height="7.5" rx="3.75" fill="#1c1a1b"/>
<ellipse cx="564.4" cy="1367.7" rx="13.0" ry="6.85" fill="#ef6a52" stroke="#6e1a14" stroke-width="1.65"/>
<ellipse cx="564.4" cy="1362.55" rx="3.4" ry="1.5" fill="#ffffff" opacity="0.85"/>
<ellipse cx="564.4" cy="1348.05" rx="13.0" ry="6.85" fill="#ef6a52" stroke="#6e1a14" stroke-width="1.65"/>
<ellipse cx="564.4" cy="1342.9" rx="3.4" ry="1.5" fill="#ffffff" opacity="0.85"/>
<ellipse cx="564.4" cy="1328.4" rx="13.0" ry="6.85" fill="#ef6a52" stroke="#6e1a14" stroke-width="1.65"/>
<ellipse cx="564.4" cy="1323.25" rx="3.4" ry="1.5" fill="#ffffff" opacity="0.85"/>
<ellipse cx="564.4" cy="1308.75" rx="13.0" ry="6.85" fill="#ef6a52" stroke="#6e1a14" stroke-width="1.65"/>
<ellipse cx="564.4" cy="1303.6" rx="3.4" ry="1.5" fill="#ffffff" opacity="0.85"/>
<ellipse cx="564.4" cy="1289.1" rx="13.0" ry="6.85" fill="#ef6a52" stroke="#6e1a14" stroke-width="1.65"/>
<ellipse cx="564.4" cy="1283.95" rx="3.4" ry="1.5" fill="#ffffff" opacity="0.85"/>
<ellipse cx="564.4" cy="1269.45" rx="13.0" ry="6.85" fill="#ef6a52" stroke="#6e1a14" stroke-width="1.65"/>
<ellipse cx="564.4" cy="1264.3" rx="3.4" ry="1.5" fill="#ffffff" opacity="0.85"/>
<ellipse cx="564.4" cy="1249.8" rx="13.0" ry="6.85" fill="#ef6a52" stroke="#6e1a14" stroke-width="1.65"/>
<ellipse cx="564.4" cy="1244.65" rx="3.4" ry="1.5" fill="#ffffff" opacity="0.85"/>
<ellipse cx="564.4" cy="1230.15" rx="13.0" ry="6.85" fill="#ef6a52" stroke="#6e1a14" stroke-width="1.65"/>
<ellipse cx="564.4" cy="1225" rx="3.4" ry="1.5" fill="#ffffff" opacity="0.85"/>
<ellipse cx="564.4" cy="1210.5" rx="13.0" ry="6.85" fill="#ef6a52" stroke="#6e1a14" stroke-width="1.65"/>
<ellipse cx="564.4" cy="1205.35" rx="3.4" ry="1.5" fill="#ffffff" opacity="0.85"/>
<ellipse cx="564.4" cy="1190.85" rx="13.0" ry="6.85" fill="#ef6a52" stroke="#6e1a14" stroke-width="1.65"/>
<ellipse cx="564.4" cy="1185.7" rx="3.4" ry="1.5" fill="#ffffff" opacity="0.85"/>
<rect x="606.15" y="1170.9" width="7.5" height="14.55" fill="#e7a656"/>
<rect x="606.15" y="1183.45" width="7.5" height="198.15" fill="#e8c48e"/>
<rect x="596.94" y="1379.6" width="24.51" height="7.5" rx="3.75" fill="#1c1a1b"/>
<ellipse cx="609.2" cy="1367.7" rx="13.0" ry="6.85" fill="#ef6a52" stroke="#6e1a14" stroke-width="1.65"/>
<ellipse cx="609.2" cy="1362.55" rx="3.4" ry="1.5" fill="#ffffff" opacity="0.85"/>
<ellipse cx="609.2" cy="1348.05" rx="13.0" ry="6.85" fill="#ef6a52" stroke="#6e1a14" stroke-width="1.65"/>
<ellipse cx="609.2" cy="1342.9" rx="3.4" ry="1.5" fill="#ffffff" opacity="0.85"/>
<ellipse cx="609.2" cy="1328.4" rx="13.0" ry="6.85" fill="#ef6a52" stroke="#6e1a14" stroke-width="1.65"/>
<ellipse cx="609.2" cy="1323.25" rx="3.4" ry="1.5" fill="#ffffff" opacity="0.85"/>
<ellipse cx="609.2" cy="1308.75" rx="13.0" ry="6.85" fill="#ef6a52" stroke="#6e1a14" stroke-width="1.65"/>
<ellipse cx="609.2" cy="1303.6" rx="3.4" ry="1.5" fill="#ffffff" opacity="0.85"/>
<ellipse cx="609.2" cy="1289.1" rx="13.0" ry="6.85" fill="#ef6a52" stroke="#6e1a14" stroke-width="1.65"/>
<ellipse cx="609.2" cy="1283.95" rx="3.4" ry="1.5" fill="#ffffff" opacity="0.85"/>
<ellipse cx="609.2" cy="1269.45" rx="13.0" ry="6.85" fill="#ef6a52" stroke="#6e1a14" stroke-width="1.65"/>
<ellipse cx="609.2" cy="1264.3" rx="3.4" ry="1.5" fill="#ffffff" opacity="0.85"/>
<ellipse cx="609.2" cy="1249.8" rx="13.0" ry="6.85" fill="#ef6a52" stroke="#6e1a14" stroke-width="1.65"/>
<ellipse cx="609.2" cy="1244.65" rx="3.4" ry="1.5" fill="#ffffff" opacity="0.85"/>
<ellipse cx="609.2" cy="1230.15" rx="13.0" ry="6.85" fill="#ef6a52" stroke="#6e1a14" stroke-width="1.65"/>
<ellipse cx="609.2" cy="1225" rx="3.4" ry="1.5" fill="#ffffff" opacity="0.85"/>
<ellipse cx="609.2" cy="1210.5" rx="13.0" ry="6.85" fill="#ef6a52" stroke="#6e1a14" stroke-width="1.65"/>
<ellipse cx="609.2" cy="1205.35" rx="3.4" ry="1.5" fill="#ffffff" opacity="0.85"/>
<ellipse cx="609.2" cy="1190.85" rx="13.0" ry="6.85" fill="#ef6a52" stroke="#6e1a14" stroke-width="1.65"/>
<ellipse cx="609.2" cy="1185.7" rx="3.4" ry="1.5" fill="#ffffff" opacity="0.85"/>
<rect x="650.85" y="1170.9" width="7.5" height="14.55" fill="#e7a656"/>
<rect x="650.85" y="1183.45" width="7.5" height="198.15" fill="#e8c48e"/>
<rect x="641.64" y="1379.6" width="24.51" height="7.5" rx="3.75" fill="#1c1a1b"/>
<ellipse cx="653.9" cy="1367.7" rx="13.0" ry="6.85" fill="#ef6a52" stroke="#6e1a14" stroke-width="1.65"/>
<ellipse cx="653.9" cy="1362.55" rx="3.4" ry="1.5" fill="#ffffff" opacity="0.85"/>
<ellipse cx="653.9" cy="1348.05" rx="13.0" ry="6.85" fill="#ef6a52" stroke="#6e1a14" stroke-width="1.65"/>
<ellipse cx="653.9" cy="1342.9" rx="3.4" ry="1.5" fill="#ffffff" opacity="0.85"/>
<ellipse cx="653.9" cy="1328.4" rx="13.0" ry="6.85" fill="#ef6a52" stroke="#6e1a14" stroke-width="1.65"/>
<ellipse cx="653.9" cy="1323.25" rx="3.4" ry="1.5" fill="#ffffff" opacity="0.85"/>
<ellipse cx="653.9" cy="1308.75" rx="13.0" ry="6.85" fill="#ef6a52" stroke="#6e1a14" stroke-width="1.65"/>
<ellipse cx="653.9" cy="1303.6" rx="3.4" ry="1.5" fill="#ffffff" opacity="0.85"/>
<ellipse cx="653.9" cy="1289.1" rx="13.0" ry="6.85" fill="#ef6a52" stroke="#6e1a14" stroke-width="1.65"/>
<ellipse cx="653.9" cy="1283.95" rx="3.4" ry="1.5" fill="#ffffff" opacity="0.85"/>
<ellipse cx="653.9" cy="1269.45" rx="13.0" ry="6.85" fill="#ef6a52" stroke="#6e1a14" stroke-width="1.65"/>
<ellipse cx="653.9" cy="1264.3" rx="3.4" ry="1.5" fill="#ffffff" opacity="0.85"/>
<ellipse cx="653.9" cy="1249.8" rx="13.0" ry="6.85" fill="#ef6a52" stroke="#6e1a14" stroke-width="1.65"/>
<ellipse cx="653.9" cy="1244.65" rx="3.4" ry="1.5" fill="#ffffff" opacity="0.85"/>
<ellipse cx="653.9" cy="1230.15" rx="13.0" ry="6.85" fill="#ef6a52" stroke="#6e1a14" stroke-width="1.65"/>
<ellipse cx="653.9" cy="1225" rx="3.4" ry="1.5" fill="#ffffff" opacity="0.85"/>
<ellipse cx="653.9" cy="1210.5" rx="13.0" ry="6.85" fill="#ef6a52" stroke="#6e1a14" stroke-width="1.65"/>
<ellipse cx="653.9" cy="1205.35" rx="3.4" ry="1.5" fill="#ffffff" opacity="0.85"/>
<ellipse cx="653.9" cy="1190.85" rx="13.0" ry="6.85" fill="#ef6a52" stroke="#6e1a14" stroke-width="1.65"/>
<ellipse cx="653.9" cy="1185.7" rx="3.4" ry="1.5" fill="#ffffff" opacity="0.85"/>
<rect x="695.55" y="1170.9" width="7.5" height="14.55" fill="#e7a656"/>
<rect x="695.55" y="1183.45" width="7.5" height="198.15" fill="#e8c48e"/>
<rect x="686.34" y="1379.6" width="24.51" height="7.5" rx="3.75" fill="#1c1a1b"/>
<ellipse cx="698.6" cy="1367.7" rx="13.0" ry="6.85" fill="#ef6a52" stroke="#6e1a14" stroke-width="1.65"/>
<ellipse cx="698.6" cy="1362.55" rx="3.4" ry="1.5" fill="#ffffff" opacity="0.85"/>
<ellipse cx="698.6" cy="1348.05" rx="13.0" ry="6.85" fill="#ef6a52" stroke="#6e1a14" stroke-width="1.65"/>
<ellipse cx="698.6" cy="1342.9" rx="3.4" ry="1.5" fill="#ffffff" opacity="0.85"/>
<ellipse cx="698.6" cy="1328.4" rx="13.0" ry="6.85" fill="#ef6a52" stroke="#6e1a14" stroke-width="1.65"/>
<ellipse cx="698.6" cy="1323.25" rx="3.4" ry="1.5" fill="#ffffff" opacity="0.85"/>
<ellipse cx="698.6" cy="1308.75" rx="13.0" ry="6.85" fill="#ef6a52" stroke="#6e1a14" stroke-width="1.65"/>
<ellipse cx="698.6" cy="1303.6" rx="3.4" ry="1.5" fill="#ffffff" opacity="0.85"/>
<ellipse cx="698.6" cy="1289.1" rx="13.0" ry="6.85" fill="#ef6a52" stroke="#6e1a14" stroke-width="1.65"/>
<ellipse cx="698.6" cy="1283.95" rx="3.4" ry="1.5" fill="#ffffff" opacity="0.85"/>
<ellipse cx="698.6" cy="1269.45" rx="13.0" ry="6.85" fill="#ef6a52" stroke="#6e1a14" stroke-width="1.65"/>
<ellipse cx="698.6" cy="1264.3" rx="3.4" ry="1.5" fill="#ffffff" opacity="0.85"/>
<ellipse cx="698.6" cy="1249.8" rx="13.0" ry="6.85" fill="#ef6a52" stroke="#6e1a14" stroke-width="1.65"/>
<ellipse cx="698.6" cy="1244.65" rx="3.4" ry="1.5" fill="#ffffff" opacity="0.85"/>
<ellipse cx="698.6" cy="1230.15" rx="13.0" ry="6.85" fill="#ef6a52" stroke="#6e1a14" stroke-width="1.65"/>
<ellipse cx="698.6" cy="1225" rx="3.4" ry="1.5" fill="#ffffff" opacity="0.85"/>
<ellipse cx="698.6" cy="1210.5" rx="13.0" ry="6.85" fill="#ef6a52" stroke="#6e1a14" stroke-width="1.65"/>
<ellipse cx="698.6" cy="1205.35" rx="3.4" ry="1.5" fill="#ffffff" opacity="0.85"/>
<ellipse cx="698.6" cy="1190.85" rx="13.0" ry="6.85" fill="#ef6a52" stroke="#6e1a14" stroke-width="1.65"/>
<ellipse cx="698.6" cy="1185.7" rx="3.4" ry="1.5" fill="#ffffff" opacity="0.85"/>
<rect x="740.25" y="1170.9" width="7.5" height="14.55" fill="#e7a656"/>
<rect x="740.25" y="1183.45" width="7.5" height="198.15" fill="#e8c48e"/>
<rect x="731.04" y="1379.6" width="24.51" height="7.5" rx="3.75" fill="#1c1a1b"/>
<ellipse cx="743.3" cy="1367.7" rx="13.0" ry="6.85" fill="#ef6a52" stroke="#6e1a14" stroke-width="1.65"/>
<ellipse cx="743.3" cy="1362.55" rx="3.4" ry="1.5" fill="#ffffff" opacity="0.85"/>
<ellipse cx="743.3" cy="1348.05" rx="13.0" ry="6.85" fill="#ef6a52" stroke="#6e1a14" stroke-width="1.65"/>
<ellipse cx="743.3" cy="1342.9" rx="3.4" ry="1.5" fill="#ffffff" opacity="0.85"/>
<ellipse cx="743.3" cy="1328.4" rx="13.0" ry="6.85" fill="#ef6a52" stroke="#6e1a14" stroke-width="1.65"/>
<ellipse cx="743.3" cy="1323.25" rx="3.4" ry="1.5" fill="#ffffff" opacity="0.85"/>
<ellipse cx="743.3" cy="1308.75" rx="13.0" ry="6.85" fill="#ef6a52" stroke="#6e1a14" stroke-width="1.65"/>
<ellipse cx="743.3" cy="1303.6" rx="3.4" ry="1.5" fill="#ffffff" opacity="0.85"/>
<ellipse cx="743.3" cy="1289.1" rx="13.0" ry="6.85" fill="#ef6a52" stroke="#6e1a14" stroke-width="1.65"/>
<ellipse cx="743.3" cy="1283.95" rx="3.4" ry="1.5" fill="#ffffff" opacity="0.85"/>
<ellipse cx="743.3" cy="1269.45" rx="13.0" ry="6.85" fill="#ef6a52" stroke="#6e1a14" stroke-width="1.65"/>
<ellipse cx="743.3" cy="1264.3" rx="3.4" ry="1.5" fill="#ffffff" opacity="0.85"/>
<ellipse cx="743.3" cy="1249.8" rx="13.0" ry="6.85" fill="#ef6a52" stroke="#6e1a14" stroke-width="1.65"/>
<ellipse cx="743.3" cy="1244.65" rx="3.4" ry="1.5" fill="#ffffff" opacity="0.85"/>
<ellipse cx="743.3" cy="1230.15" rx="13.0" ry="6.85" fill="#ef6a52" stroke="#6e1a14" stroke-width="1.65"/>
<ellipse cx="743.3" cy="1225" rx="3.4" ry="1.5" fill="#ffffff" opacity="0.85"/>
<ellipse cx="743.3" cy="1210.5" rx="13.0" ry="6.85" fill="#ef6a52" stroke="#6e1a14" stroke-width="1.65"/>
<ellipse cx="743.3" cy="1205.35" rx="3.4" ry="1.5" fill="#ffffff" opacity="0.85"/>
<ellipse cx="743.3" cy="1190.85" rx="13.0" ry="6.85" fill="#ef6a52" stroke="#6e1a14" stroke-width="1.65"/>
<ellipse cx="743.3" cy="1185.7" rx="3.4" ry="1.5" fill="#ffffff" opacity="0.85"/>
<rect x="785.35" y="1170.9" width="7.5" height="14.55" fill="#e7a656"/>
<rect x="785.35" y="1183.45" width="7.5" height="198.15" fill="#e8c48e"/>
<rect x="776.14" y="1379.6" width="24.51" height="7.5" rx="3.75" fill="#1c1a1b"/>
<ellipse cx="788.4" cy="1367.7" rx="13.0" ry="6.85" fill="#ef6a52" stroke="#6e1a14" stroke-width="1.65"/>
<ellipse cx="788.4" cy="1362.55" rx="3.4" ry="1.5" fill="#ffffff" opacity="0.85"/>
<ellipse cx="788.4" cy="1348.05" rx="13.0" ry="6.85" fill="#ef6a52" stroke="#6e1a14" stroke-width="1.65"/>
<ellipse cx="788.4" cy="1342.9" rx="3.4" ry="1.5" fill="#ffffff" opacity="0.85"/>
<ellipse cx="788.4" cy="1328.4" rx="13.0" ry="6.85" fill="#ef6a52" stroke="#6e1a14" stroke-width="1.65"/>
<ellipse cx="788.4" cy="1323.25" rx="3.4" ry="1.5" fill="#ffffff" opacity="0.85"/>
<ellipse cx="788.4" cy="1308.75" rx="13.0" ry="6.85" fill="#ef6a52" stroke="#6e1a14" stroke-width="1.65"/>
<ellipse cx="788.4" cy="1303.6" rx="3.4" ry="1.5" fill="#ffffff" opacity="0.85"/>
<ellipse cx="788.4" cy="1289.1" rx="13.0" ry="6.85" fill="#ef6a52" stroke="#6e1a14" stroke-width="1.65"/>
<ellipse cx="788.4" cy="1283.95" rx="3.4" ry="1.5" fill="#ffffff" opacity="0.85"/>
<ellipse cx="788.4" cy="1269.45" rx="13.0" ry="6.85" fill="#ef6a52" stroke="#6e1a14" stroke-width="1.65"/>
<ellipse cx="788.4" cy="1264.3" rx="3.4" ry="1.5" fill="#ffffff" opacity="0.85"/>
<ellipse cx="788.4" cy="1249.8" rx="13.0" ry="6.85" fill="#ef6a52" stroke="#6e1a14" stroke-width="1.65"/>
<ellipse cx="788.4" cy="1244.65" rx="3.4" ry="1.5" fill="#ffffff" opacity="0.85"/>
<ellipse cx="788.4" cy="1230.15" rx="13.0" ry="6.85" fill="#ef6a52" stroke="#6e1a14" stroke-width="1.65"/>
<ellipse cx="788.4" cy="1225" rx="3.4" ry="1.5" fill="#ffffff" opacity="0.85"/>
<ellipse cx="788.4" cy="1210.5" rx="13.0" ry="6.85" fill="#ef6a52" stroke="#6e1a14" stroke-width="1.65"/>
<ellipse cx="788.4" cy="1205.35" rx="3.4" ry="1.5" fill="#ffffff" opacity="0.85"/>
<ellipse cx="788.4" cy="1190.85" rx="13.0" ry="6.85" fill="#ef6a52" stroke="#6e1a14" stroke-width="1.65"/>
<ellipse cx="788.4" cy="1185.7" rx="3.4" ry="1.5" fill="#ffffff" opacity="0.85"/>
<rect x="829.75" y="1170.9" width="7.5" height="14.55" fill="#e7a656"/>
<rect x="829.75" y="1183.45" width="7.5" height="198.15" fill="#e8c48e"/>
<rect x="820.54" y="1379.6" width="24.51" height="7.5" rx="3.75" fill="#1c1a1b"/>
<ellipse cx="832.8" cy="1367.7" rx="13.0" ry="6.85" fill="#ef6a52" stroke="#6e1a14" stroke-width="1.65"/>
<ellipse cx="832.8" cy="1362.55" rx="3.4" ry="1.5" fill="#ffffff" opacity="0.85"/>
<ellipse cx="832.8" cy="1348.05" rx="13.0" ry="6.85" fill="#ef6a52" stroke="#6e1a14" stroke-width="1.65"/>
<ellipse cx="832.8" cy="1342.9" rx="3.4" ry="1.5" fill="#ffffff" opacity="0.85"/>
<ellipse cx="832.8" cy="1328.4" rx="13.0" ry="6.85" fill="#ef6a52" stroke="#6e1a14" stroke-width="1.65"/>
<ellipse cx="832.8" cy="1323.25" rx="3.4" ry="1.5" fill="#ffffff" opacity="0.85"/>
<ellipse cx="832.8" cy="1308.75" rx="13.0" ry="6.85" fill="#ef6a52" stroke="#6e1a14" stroke-width="1.65"/>
<ellipse cx="832.8" cy="1303.6" rx="3.4" ry="1.5" fill="#ffffff" opacity="0.85"/>
<ellipse cx="832.8" cy="1289.1" rx="13.0" ry="6.85" fill="#ef6a52" stroke="#6e1a14" stroke-width="1.65"/>
<ellipse cx="832.8" cy="1283.95" rx="3.4" ry="1.5" fill="#ffffff" opacity="0.85"/>
<ellipse cx="832.8" cy="1269.45" rx="13.0" ry="6.85" fill="#ef6a52" stroke="#6e1a14" stroke-width="1.65"/>
<ellipse cx="832.8" cy="1264.3" rx="3.4" ry="1.5" fill="#ffffff" opacity="0.85"/>
<ellipse cx="832.8" cy="1249.8" rx="13.0" ry="6.85" fill="#ef6a52" stroke="#6e1a14" stroke-width="1.65"/>
<ellipse cx="832.8" cy="1244.65" rx="3.4" ry="1.5" fill="#ffffff" opacity="0.85"/>
<ellipse cx="832.8" cy="1230.15" rx="13.0" ry="6.85" fill="#ef6a52" stroke="#6e1a14" stroke-width="1.65"/>
<ellipse cx="832.8" cy="1225" rx="3.4" ry="1.5" fill="#ffffff" opacity="0.85"/>
<ellipse cx="832.8" cy="1210.5" rx="13.0" ry="6.85" fill="#ef6a52" stroke="#6e1a14" stroke-width="1.65"/>
<ellipse cx="832.8" cy="1205.35" rx="3.4" ry="1.5" fill="#ffffff" opacity="0.85"/>
<ellipse cx="832.8" cy="1190.85" rx="13.0" ry="6.85" fill="#ef6a52" stroke="#6e1a14" stroke-width="1.65"/>
<ellipse cx="832.8" cy="1185.7" rx="3.4" ry="1.5" fill="#ffffff" opacity="0.85"/>
<rect x="902.85" y="1170.9" width="7.5" height="93.15" fill="#e7a656"/>
<rect x="902.85" y="1262.05" width="7.5" height="119.55" fill="#e8c48e"/>
<rect x="893.64" y="1379.6" width="24.51" height="7.5" rx="3.75" fill="#1c1a1b"/>
<ellipse cx="905.9" cy="1367.7" rx="13.0" ry="6.85" fill="#ef6a52" stroke="#6e1a14" stroke-width="1.65"/>
<ellipse cx="905.9" cy="1362.55" rx="3.4" ry="1.5" fill="#ffffff" opacity="0.85"/>
<ellipse cx="905.9" cy="1348.05" rx="13.0" ry="6.85" fill="#ef6a52" stroke="#6e1a14" stroke-width="1.65"/>
<ellipse cx="905.9" cy="1342.9" rx="3.4" ry="1.5" fill="#ffffff" opacity="0.85"/>
<ellipse cx="905.9" cy="1328.4" rx="13.0" ry="6.85" fill="#ef6a52" stroke="#6e1a14" stroke-width="1.65"/>
<ellipse cx="905.9" cy="1323.25" rx="3.4" ry="1.5" fill="#ffffff" opacity="0.85"/>
<ellipse cx="905.9" cy="1308.75" rx="13.0" ry="6.85" fill="#ef6a52" stroke="#6e1a14" stroke-width="1.65"/>
<ellipse cx="905.9" cy="1303.6" rx="3.4" ry="1.5" fill="#ffffff" opacity="0.85"/>
<ellipse cx="905.9" cy="1289.1" rx="13.0" ry="6.85" fill="#ef6a52" stroke="#6e1a14" stroke-width="1.65"/>
<ellipse cx="905.9" cy="1283.95" rx="3.4" ry="1.5" fill="#ffffff" opacity="0.85"/>
<ellipse cx="905.9" cy="1269.45" rx="13.0" ry="6.85" fill="#ef6a52" stroke="#6e1a14" stroke-width="1.65"/>
<ellipse cx="905.9" cy="1264.3" rx="3.4" ry="1.5" fill="#ffffff" opacity="0.85"/>
<path d="M691.6,1105.5 L691.6,1066.6 Q691.6,1059.6 698.6,1059.6 L824.6,1059.6 Q831.6,1059.6 831.6,1066.6 L831.6,1105.5" fill="none" stroke="#24805c" stroke-width="2.7"/>
<circle cx="762" cy="1060.8" r="37.2" fill="url(#gball)" stroke="#b0bf94" stroke-width="1.1"/>
<path d="M766.18,1031.09 A30,30 0 0 1 788.49,1046.72" fill="none" stroke="#ffffff" stroke-width="7" stroke-linecap="round" opacity="0.6" filter="url(#blur2)"/>
<path d="M772.6,1031.67 A31,31 0 0 1 783.92,1038.88" fill="none" stroke="#ffffff" stroke-width="3.5" stroke-linecap="round" opacity="0.7" filter="url(#blur1)"/>
<circle cx="737.7" cy="1063.3" r="1.15" fill="#202020"/><circle cx="742.48" cy="1063.3" r="1.15" fill="#202020"/><circle cx="747.26" cy="1063.3" r="1.15" fill="#202020"/><circle cx="752.04" cy="1063.3" r="1.15" fill="#202020"/><circle cx="756.82" cy="1063.3" r="1.15" fill="#202020"/><circle cx="761.6" cy="1063.3" r="1.15" fill="#202020"/><circle cx="766.38" cy="1063.3" r="1.15" fill="#202020"/><circle cx="771.16" cy="1063.3" r="1.15" fill="#202020"/><circle cx="775.94" cy="1063.3" r="1.15" fill="#202020"/><circle cx="780.72" cy="1063.3" r="1.15" fill="#202020"/><circle cx="785.5" cy="1063.3" r="1.15" fill="#202020"/>
<rect x="750.1" y="1425.7" width="23" height="4.6" fill="#1f80c2"/><rect x="759.3" y="1416.5" width="4.6" height="23" fill="#1f80c2"/>
<circle cx="668.6" cy="1441.6" r="1.15" fill="#202020"/><circle cx="673.37" cy="1441.6" r="1.15" fill="#202020"/><circle cx="678.14" cy="1441.6" r="1.15" fill="#202020"/><circle cx="682.91" cy="1441.6" r="1.15" fill="#202020"/><circle cx="687.68" cy="1441.6" r="1.15" fill="#202020"/><circle cx="692.45" cy="1441.6" r="1.15" fill="#202020"/><circle cx="697.22" cy="1441.6" r="1.15" fill="#202020"/><circle cx="701.99" cy="1441.6" r="1.15" fill="#202020"/><circle cx="706.76" cy="1441.6" r="1.15" fill="#202020"/><circle cx="711.53" cy="1441.6" r="1.15" fill="#202020"/><circle cx="716.3" cy="1441.6" r="1.15" fill="#202020"/>
<circle cx="807.1" cy="1441.6" r="1.15" fill="#202020"/><circle cx="811.85" cy="1441.6" r="1.15" fill="#202020"/><circle cx="816.6" cy="1441.6" r="1.15" fill="#202020"/><circle cx="821.35" cy="1441.6" r="1.15" fill="#202020"/><circle cx="826.1" cy="1441.6" r="1.15" fill="#202020"/><circle cx="830.85" cy="1441.6" r="1.15" fill="#202020"/><circle cx="835.6" cy="1441.6" r="1.15" fill="#202020"/><circle cx="840.35" cy="1441.6" r="1.15" fill="#202020"/><circle cx="845.1" cy="1441.6" r="1.15" fill="#202020"/><circle cx="849.85" cy="1441.6" r="1.15" fill="#202020"/><circle cx="854.6" cy="1441.6" r="1.15" fill="#202020"/>
<rect x="30.2" y="974" width="9.6" height="137.4" rx="4.8" fill="#dedede"/>
<path d="M921,1494 L922,1462 Q935,1446 960,1440 Q985,1432 1010,1430 L1050,1428 Q1070,1428 1079,1431 L1080,1494 Z" fill="#f9e27c"/>
<path d="M967,1447 C963,1457 955,1462 957,1470 Q962,1474 970,1468 Q972,1478 978,1481 Q985,1482 988,1474 Q995,1484 1006,1486 Q1014,1484 1016,1474 Q1020,1482 1028,1480 Q1033,1477 1032,1470 Q1038,1476 1044,1472 Q1047,1466 1045,1462 Q1055,1462 1060,1453 Q1052,1452 1043,1446 Z" fill="#7cc9ea"/>
<path d="M960,1468 Q966,1466 970,1462 M990,1476 Q994,1472 998,1472 M1030,1468 Q1034,1464 1040,1464" fill="none" stroke="#d8f0fb" stroke-width="1.4" opacity="0.8"/>
<path d="M968.4,1450 Q965.5,1420 984,1408 Q1004.5,1396.5 1025,1408 Q1044,1420 1041.4,1450 Q1030,1461.5 1005,1461.5 Q980,1461.5 968.4,1450 Z" fill="#ffffff" stroke="#55b5ca" stroke-width="3.4"/>
<text x="1004.5" y="1440" class="pg">117</text>
<g fill="none" stroke="#a0a0a0" stroke-width="2.2" stroke-linecap="round"><path d="M48.8,1484 L52,1494"/><path d="M56,1494 L61.8,1484 L66,1494"/><path d="M80,1483.5 L74.5,1488 L79,1494"/><path d="M96.5,1479.5 L91,1494"/><path d="M103,1484 L106,1494"/><path d="M113,1484 L116,1494"/><path d="M120.5,1484 L126,1494 L133.5,1484"/></g>
</svg>
</body></html>
